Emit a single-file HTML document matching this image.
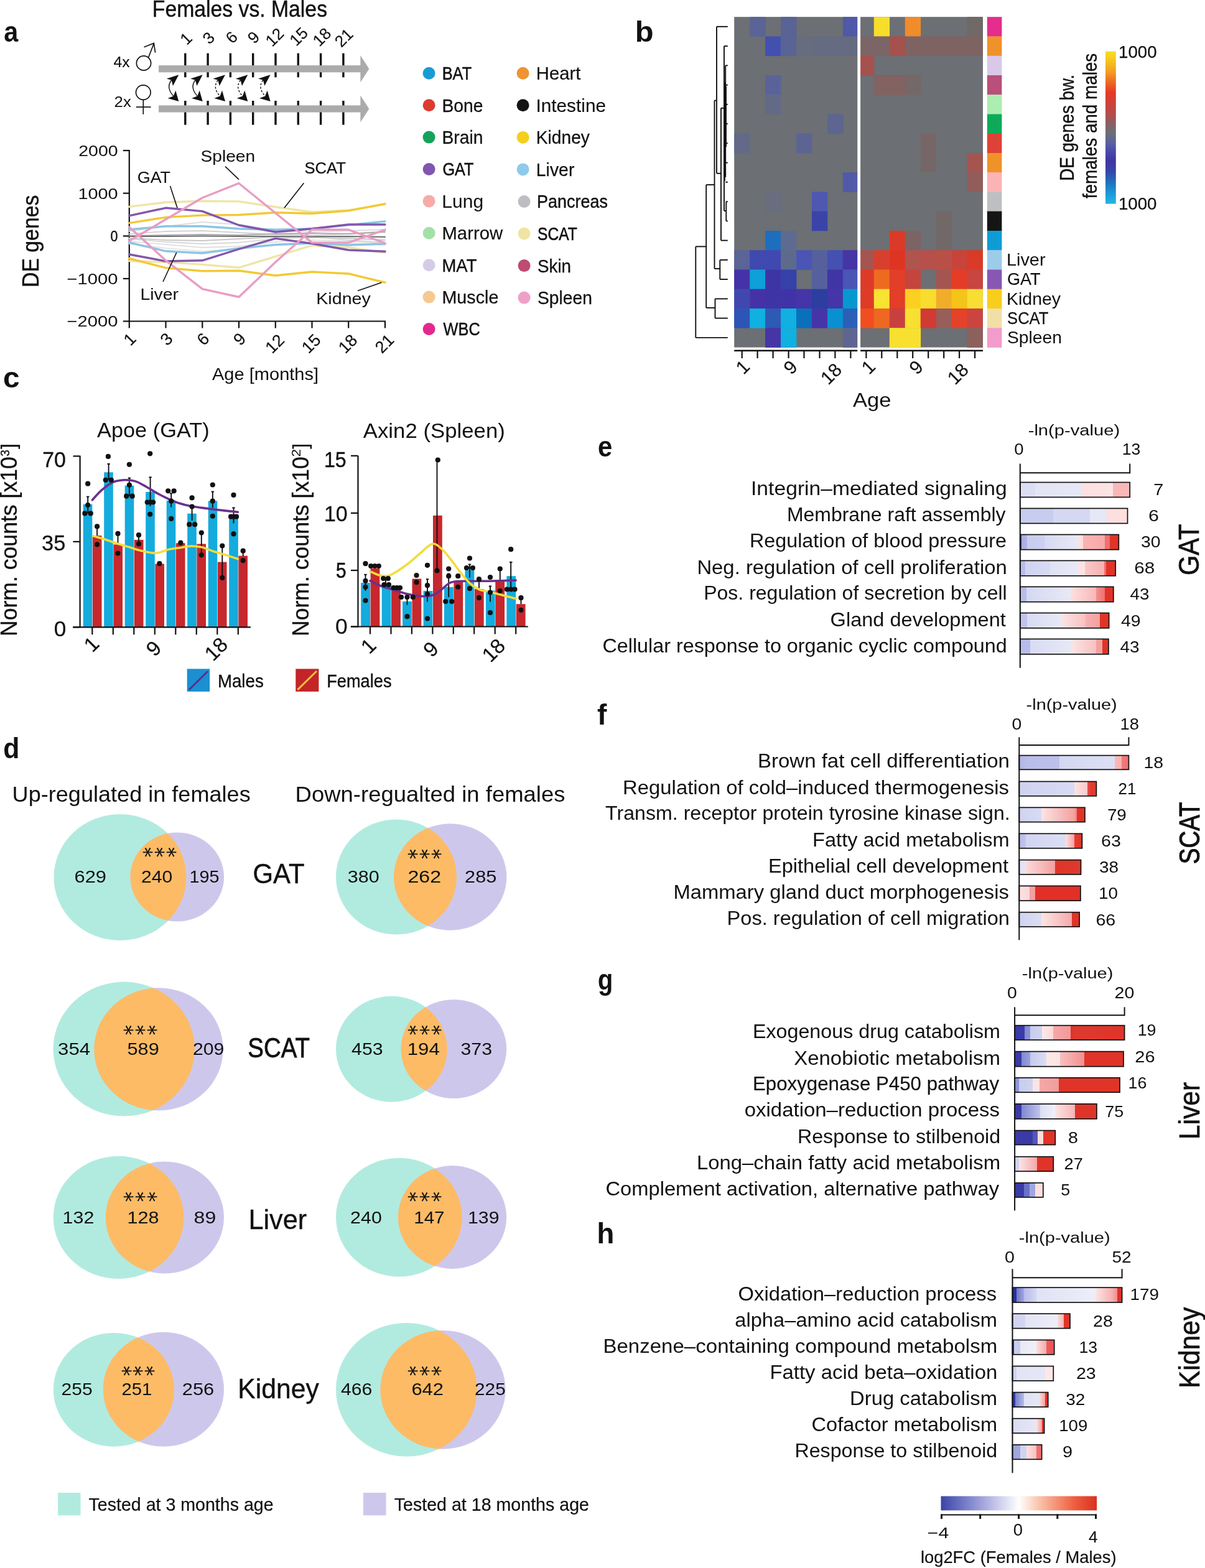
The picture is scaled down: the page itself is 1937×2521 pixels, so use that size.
<!DOCTYPE html>
<html><head><meta charset="utf-8"><title>Figure</title>
<style>html,body{margin:0;padding:0;background:#fff;}svg{display:block;}
svg{font-family:"Liberation Sans",Arial,sans-serif;}text{fill:#111;}</style></head>
<body><svg width="1937" height="2521" viewBox="0 0 1937 2521">
<rect width="1937" height="2521" fill="#fff"/>
<text x="6.2" y="66.9" font-size="47" font-weight="bold" textLength="23" lengthAdjust="spacingAndGlyphs">a</text>
<text x="244.8" y="27.1" font-size="36" textLength="281.2" lengthAdjust="spacingAndGlyphs" stroke="#111" stroke-width="0.42">Females vs. Males</text>
<text x="182.6" y="107.7" font-size="24.5" textLength="26.1" lengthAdjust="spacingAndGlyphs" stroke="#111" stroke-width="0.13">4x</text>
<text x="183.6" y="172.4" font-size="24.5" textLength="27.2" lengthAdjust="spacingAndGlyphs">2x</text>
<circle cx="231" cy="101.5" r="11.6" fill="none" stroke="#111" stroke-width="1.7"/>
<line x1="238.7" y1="92.3" x2="247.3" y2="70" stroke="#111" stroke-width="1.7" />
<path d="M231.5,75.8 L247.3,69.5 L249.6,84.6" fill="none" stroke="#111" stroke-width="1.7" />
<circle cx="230.3" cy="148.6" r="11.8" fill="none" stroke="#111" stroke-width="1.7"/>
<line x1="230.3" y1="160.4" x2="230.3" y2="183.8" stroke="#111" stroke-width="1.7" />
<line x1="218.8" y1="172.1" x2="242.6" y2="172.1" stroke="#111" stroke-width="1.7" />
<line x1="297.8" y1="85.6" x2="297.8" y2="124.3" stroke="#111" stroke-width="3.4" />
<line x1="297.8" y1="162" x2="297.8" y2="200.7" stroke="#111" stroke-width="3.4" />
<line x1="334.1" y1="85.6" x2="334.1" y2="124.3" stroke="#111" stroke-width="3.4" />
<line x1="334.1" y1="162" x2="334.1" y2="200.7" stroke="#111" stroke-width="3.4" />
<line x1="370.4" y1="85.6" x2="370.4" y2="124.3" stroke="#111" stroke-width="3.4" />
<line x1="370.4" y1="162" x2="370.4" y2="200.7" stroke="#111" stroke-width="3.4" />
<line x1="406.7" y1="85.6" x2="406.7" y2="124.3" stroke="#111" stroke-width="3.4" />
<line x1="406.7" y1="162" x2="406.7" y2="200.7" stroke="#111" stroke-width="3.4" />
<line x1="443" y1="85.6" x2="443" y2="124.3" stroke="#111" stroke-width="3.4" />
<line x1="443" y1="162" x2="443" y2="200.7" stroke="#111" stroke-width="3.4" />
<line x1="479.3" y1="85.6" x2="479.3" y2="124.3" stroke="#111" stroke-width="3.4" />
<line x1="479.3" y1="162" x2="479.3" y2="200.7" stroke="#111" stroke-width="3.4" />
<line x1="515.6" y1="85.6" x2="515.6" y2="124.3" stroke="#111" stroke-width="3.4" />
<line x1="515.6" y1="162" x2="515.6" y2="200.7" stroke="#111" stroke-width="3.4" />
<line x1="551.9" y1="85.6" x2="551.9" y2="124.3" stroke="#111" stroke-width="3.4" />
<line x1="551.9" y1="162" x2="551.9" y2="200.7" stroke="#111" stroke-width="3.4" />
<rect x="255.1" y="105.1" width="326" height="11.2" fill="#ABABAB" />
<path d="M579.4,89.1 L593.3,110.7 L579.4,132.3 Z" fill="#ABABAB" />
<rect x="255.1" y="169.4" width="326" height="11.2" fill="#ABABAB" />
<path d="M579.4,153.4 L593.3,175 L579.4,196.6 Z" fill="#ABABAB" />
<text x="300.2" y="73.6" font-size="26" transform="rotate(-45 300.2 73.6)" stroke="#111" stroke-width="0.16">1</text>
<text x="336.5" y="72.4" font-size="26" transform="rotate(-45 336.5 72.4)" stroke="#111" stroke-width="0.16">3</text>
<text x="373.5" y="71.5" font-size="26" transform="rotate(-45 373.5 71.5)" stroke="#111" stroke-width="0.16">6</text>
<text x="408.7" y="71.4" font-size="26" transform="rotate(-45 408.7 71.4)" stroke="#111" stroke-width="0.16">9</text>
<text x="437.6" y="76.3" font-size="26" transform="rotate(-45 437.6 76.3)" stroke="#111" stroke-width="0.16">12</text>
<text x="476.3" y="75.2" font-size="26" transform="rotate(-45 476.3 75.2)" stroke="#111" stroke-width="0.16">15</text>
<text x="513.6" y="75.9" font-size="26" transform="rotate(-45 513.6 75.9)" stroke="#111" stroke-width="0.16">18</text>
<text x="548.7" y="77.3" font-size="26" transform="rotate(-45 548.7 77.3)" stroke="#111" stroke-width="0.16">21</text>
<path d="M275.6,128.8 Q266.3,140.8 278.9,154.5" fill="none" stroke="#111" stroke-width="1.4" />
<path d="M287.3,120.2 L267.8,126.4 L275.6,128.8 L278,138.1 Z" fill="#111"/>
<path d="M287.3,163.1 L269.7,158.1 L278.9,154.5 L282.3,145.5 Z" fill="#111"/>
<path d="M314,128.8 Q304.7,140.8 317.3,154.5" fill="none" stroke="#111" stroke-width="1.4" />
<path d="M325.7,120.2 L306.2,126.4 L314,128.8 L316.4,138.1 Z" fill="#111"/>
<path d="M325.7,163.1 L308.1,158.1 L317.3,154.5 L320.7,145.5 Z" fill="#111"/>
<path d="M350.3,128.8 Q341,140.8 353.6,154.5" fill="none" stroke="#111" stroke-width="1.4" stroke-dasharray="3.2,2.6"/>
<path d="M362,120.2 L342.5,126.4 L350.3,128.8 L352.7,138.1 Z" fill="#111"/>
<path d="M362,163.1 L344.4,158.1 L353.6,154.5 L357,145.5 Z" fill="#111"/>
<path d="M386.6,128.8 Q377.3,140.8 389.9,154.5" fill="none" stroke="#111" stroke-width="1.4" stroke-dasharray="3.2,2.6"/>
<path d="M398.3,120.2 L378.8,126.4 L386.6,128.8 L389,138.1 Z" fill="#111"/>
<path d="M398.3,163.1 L380.7,158.1 L389.9,154.5 L393.3,145.5 Z" fill="#111"/>
<path d="M422.9,128.8 Q413.6,140.8 426.2,154.5" fill="none" stroke="#111" stroke-width="1.4" stroke-dasharray="3.2,2.6"/>
<path d="M434.6,120.2 L415.1,126.4 L422.9,128.8 L425.3,138.1 Z" fill="#111"/>
<path d="M434.6,163.1 L417,158.1 L426.2,154.5 L429.6,145.5 Z" fill="#111"/>
<line x1="207.8" y1="241" x2="207.8" y2="517.5" stroke="#111" stroke-width="2.2" />
<line x1="206.7" y1="516.5" x2="620" y2="516.5" stroke="#111" stroke-width="2.2" />
<line x1="197.8" y1="242" x2="207.8" y2="242" stroke="#111" stroke-width="2.2" />
<text x="126.2" y="250.8" font-size="24.8" textLength="63.4" lengthAdjust="spacingAndGlyphs">2000</text>
<line x1="197.8" y1="310.7" x2="207.8" y2="310.7" stroke="#111" stroke-width="2.2" />
<text x="125.4" y="319.5" font-size="24.8" textLength="64.2" lengthAdjust="spacingAndGlyphs">1000</text>
<line x1="197.8" y1="379.5" x2="207.8" y2="379.5" stroke="#111" stroke-width="2.2" />
<text x="177.4" y="388.3" font-size="24.8" textLength="11.9" lengthAdjust="spacingAndGlyphs" stroke="#111" stroke-width="0.45">0</text>
<line x1="197.8" y1="448" x2="207.8" y2="448" stroke="#111" stroke-width="2.2" />
<text x="107.5" y="456.8" font-size="24.8" textLength="82" lengthAdjust="spacingAndGlyphs">−1000</text>
<line x1="197.8" y1="516.5" x2="207.8" y2="516.5" stroke="#111" stroke-width="2.2" />
<text x="107.5" y="525.3" font-size="24.8" textLength="82" lengthAdjust="spacingAndGlyphs">−2000</text>
<line x1="207.8" y1="516.5" x2="207.8" y2="527.5" stroke="#111" stroke-width="2.2" />
<text x="209.8" y="557.2" font-size="27" transform="rotate(-45 209.8 557.2)" stroke="#111" stroke-width="0.16">1</text>
<line x1="266.5" y1="516.5" x2="266.5" y2="527.5" stroke="#111" stroke-width="2.2" />
<text x="268.8" y="556.9" font-size="27" transform="rotate(-45 268.8 556.9)" stroke="#111" stroke-width="0.16">3</text>
<line x1="325.3" y1="516.5" x2="325.3" y2="527.5" stroke="#111" stroke-width="2.2" />
<text x="327.5" y="557" font-size="27" transform="rotate(-45 327.5 557)" stroke="#111" stroke-width="0.16">6</text>
<line x1="384" y1="516.5" x2="384" y2="527.5" stroke="#111" stroke-width="2.2" />
<text x="386.3" y="556.9" font-size="27" transform="rotate(-45 386.3 556.9)" stroke="#111" stroke-width="0.16">9</text>
<line x1="442.8" y1="516.5" x2="442.8" y2="527.5" stroke="#111" stroke-width="2.2" />
<text x="437.6" y="569.8" font-size="27" transform="rotate(-45 437.6 569.8)" stroke="#111" stroke-width="0.16">12</text>
<line x1="501.5" y1="516.5" x2="501.5" y2="527.5" stroke="#111" stroke-width="2.2" />
<text x="496.1" y="569.7" font-size="27" transform="rotate(-45 496.1 569.7)" stroke="#111" stroke-width="0.16">15</text>
<line x1="560.2" y1="516.5" x2="560.2" y2="527.5" stroke="#111" stroke-width="2.2" />
<text x="554.9" y="569.8" font-size="27" transform="rotate(-45 554.9 569.8)" stroke="#111" stroke-width="0.16">18</text>
<line x1="619" y1="516.5" x2="619" y2="527.5" stroke="#111" stroke-width="2.2" />
<text x="614" y="569.6" font-size="27" transform="rotate(-45 614 569.6)" stroke="#111" stroke-width="0.16">21</text>
<text x="62.3" y="462" font-size="36.5" textLength="148.4" lengthAdjust="spacingAndGlyphs" transform="rotate(-90 62.3 462)" stroke="#111" stroke-width="0.46">DE genes</text>
<text x="341" y="610.5" font-size="27.6" textLength="171.1" lengthAdjust="spacingAndGlyphs">Age [months]</text>
<polyline points="207.8,372 266.5,364 325.3,357 384,361 442.8,370 501.5,373 560.2,371 619,369" fill="none" stroke="#DEDEDE" stroke-width="1.8" stroke-linejoin="round" stroke-linecap="round" />
<polyline points="207.8,376 266.5,372 325.3,371 384,374 442.8,377 501.5,378 560.2,376 619,372" fill="none" stroke="#D2D2D2" stroke-width="1.8" stroke-linejoin="round" stroke-linecap="round" />
<polyline points="207.8,383 266.5,386 325.3,387 384,384 442.8,381 501.5,382 560.2,383 619,386" fill="none" stroke="#C8C8C8" stroke-width="1.8" stroke-linejoin="round" stroke-linecap="round" />
<polyline points="207.8,388 266.5,393 325.3,398 384,396 442.8,389 501.5,386 560.2,388 619,391" fill="none" stroke="#E0E0E0" stroke-width="1.8" stroke-linejoin="round" stroke-linecap="round" />
<polyline points="207.8,392 266.5,399 325.3,404 384,401 442.8,393 501.5,389 560.2,391 619,394" fill="none" stroke="#E6E6E6" stroke-width="1.8" stroke-linejoin="round" stroke-linecap="round" />
<polyline points="207.8,379 266.5,378 325.3,377 384,378 442.8,376 501.5,375 560.2,376 619,373" fill="none" stroke="#AAAAAA" stroke-width="1.8" stroke-linejoin="round" stroke-linecap="round" />
<polyline points="207.8,384 266.5,389 325.3,392 384,390 442.8,384 501.5,381 560.2,386 619,390" fill="none" stroke="#D8D8D8" stroke-width="1.8" stroke-linejoin="round" stroke-linecap="round" />
<polyline points="207.8,380 266.5,380 325.3,379.5 384,380 442.8,380 501.5,380.5 560.2,380 619,381" fill="none" stroke="#6E6E6E" stroke-width="2.2" stroke-linejoin="round" stroke-linecap="round" />
<polyline points="207.8,332.4 266.5,325.2 325.3,323.2 384,323.9 442.8,332.8 501.5,341 560.2,338 619,328.6" fill="none" stroke="#EFE5A8" stroke-width="3.4" stroke-linejoin="round" stroke-linecap="round" />
<polyline points="207.8,419.5 266.5,421.4 325.3,425.4 384,430.3 442.8,412.4 501.5,394.6 560.2,397.6 619,406.5" fill="none" stroke="#EFE5A8" stroke-width="3.4" stroke-linejoin="round" stroke-linecap="round" />
<polyline points="207.8,369 266.5,363.8 325.3,363.8 384,367.7 442.8,369.3 501.5,367.8 560.2,361.8 619,355.9" fill="none" stroke="#8DC5E4" stroke-width="3.4" stroke-linejoin="round" stroke-linecap="round" />
<polyline points="207.8,390 266.5,403.8 325.3,407 384,399.2 442.8,393.5 501.5,391 560.2,394 619,392" fill="none" stroke="#8DC5E4" stroke-width="3.4" stroke-linejoin="round" stroke-linecap="round" />
<polyline points="207.8,358.6 266.5,349.4 325.3,346.1 384,345.5 442.8,341.8 501.5,343.2 560.2,338.8 619,327.6" fill="none" stroke="#F2C935" stroke-width="3.4" stroke-linejoin="round" stroke-linecap="round" />
<polyline points="207.8,415.5 266.5,430.6 325.3,435.8 384,435.2 442.8,443 501.5,437 560.2,440 619,454.1" fill="none" stroke="#F2C935" stroke-width="3.4" stroke-linejoin="round" stroke-linecap="round" />
<polyline points="207.8,346.8 266.5,334.3 325.3,339.6 384,362 442.8,373 501.5,367.8 560.2,361 619,361" fill="none" stroke="#8157AE" stroke-width="3.4" stroke-linejoin="round" stroke-linecap="round" />
<polyline points="207.8,409 266.5,420 325.3,418.8 384,400.5 442.8,383.4 501.5,391.6 560.2,402 619,404.3" fill="none" stroke="#8157AE" stroke-width="3.4" stroke-linejoin="round" stroke-linecap="round" />
<polyline points="207.8,387.4 266.5,352.7 325.3,318 384,294.7 442.8,342.5 501.5,390.1 560.2,390.1 619,369.3" fill="none" stroke="#E99CC5" stroke-width="3.4" stroke-linejoin="round" stroke-linecap="round" />
<polyline points="207.8,365 266.5,418.8 325.3,464.6 384,477.5 442.8,421.5 501.5,369.3 560.2,369.3 619,390.9" fill="none" stroke="#E99CC5" stroke-width="3.4" stroke-linejoin="round" stroke-linecap="round" />
<text x="220.7" y="293.5" font-size="26.5" textLength="53.4" lengthAdjust="spacingAndGlyphs">GAT</text>
<line x1="273.5" y1="299" x2="285" y2="334.3" stroke="#111" stroke-width="1.6" />
<text x="322.5" y="260" font-size="26.5" textLength="87.7" lengthAdjust="spacingAndGlyphs">Spleen</text>
<line x1="362" y1="267.6" x2="384" y2="288.6" stroke="#111" stroke-width="1.6" />
<text x="489.5" y="279" font-size="26.5" textLength="66.4" lengthAdjust="spacingAndGlyphs" stroke="#111" stroke-width="0.24">SCAT</text>
<line x1="488.4" y1="294.3" x2="457" y2="334.3" stroke="#111" stroke-width="1.6" />
<text x="225.5" y="482" font-size="26.5" textLength="61.5" lengthAdjust="spacingAndGlyphs">Liver</text>
<line x1="283.8" y1="406" x2="262" y2="453" stroke="#111" stroke-width="1.6" />
<text x="508.2" y="488.6" font-size="26.5" textLength="87.7" lengthAdjust="spacingAndGlyphs">Kidney</text>
<line x1="575" y1="467.6" x2="613.3" y2="454.3" stroke="#111" stroke-width="1.6" />
<circle cx="689.6" cy="117.8" r="10" fill="#1B9BD4" />
<text x="710.7" y="128.2" font-size="29.3" textLength="47.5" lengthAdjust="spacingAndGlyphs" stroke="#111" stroke-width="0.53">BAT</text>
<circle cx="689.6" cy="169.2" r="10" fill="#DB3C30" />
<text x="710.4" y="179.6" font-size="29.3" textLength="66.1" lengthAdjust="spacingAndGlyphs" stroke="#111" stroke-width="0.27">Bone</text>
<circle cx="689.6" cy="220.6" r="10" fill="#14A358" />
<text x="710.4" y="231" font-size="29.3" textLength="66" lengthAdjust="spacingAndGlyphs" stroke="#111" stroke-width="0.27">Brain</text>
<circle cx="689.6" cy="272" r="10" fill="#8056B0" />
<text x="711.4" y="282.4" font-size="29.3" textLength="50.1" lengthAdjust="spacingAndGlyphs" stroke="#111" stroke-width="0.54">GAT</text>
<circle cx="689.6" cy="323.4" r="10" fill="#F6ABA9" />
<text x="710.3" y="333.8" font-size="29.3" textLength="66.9" lengthAdjust="spacingAndGlyphs">Lung</text>
<circle cx="689.6" cy="374.8" r="10" fill="#A3E0A6" />
<text x="710.4" y="385.2" font-size="29.3" textLength="97.8" lengthAdjust="spacingAndGlyphs" stroke="#111" stroke-width="0.17">Marrow</text>
<circle cx="689.6" cy="426.2" r="10" fill="#D6CBE7" />
<text x="710.5" y="436.6" font-size="29.3" textLength="55.9" lengthAdjust="spacingAndGlyphs" stroke="#111" stroke-width="0.34">MAT</text>
<circle cx="689.6" cy="477.6" r="10" fill="#F7C891" />
<text x="710.4" y="488" font-size="29.3" textLength="91" lengthAdjust="spacingAndGlyphs" stroke="#111" stroke-width="0.23">Muscle</text>
<circle cx="689.6" cy="529" r="10" fill="#E3288E" />
<text x="712.6" y="539.4" font-size="29.3" textLength="59.2" lengthAdjust="spacingAndGlyphs" stroke="#111" stroke-width="0.53">WBC</text>
<circle cx="840.6" cy="117.8" r="10" fill="#EE9432" />
<text x="861.8" y="128.2" font-size="29.3" textLength="71.7" lengthAdjust="spacingAndGlyphs" stroke="#111" stroke-width="0.18">Heart</text>
<circle cx="840.6" cy="169.3" r="10" fill="#141414" />
<text x="861.4" y="179.8" font-size="29.3" textLength="112.7" lengthAdjust="spacingAndGlyphs" stroke="#111" stroke-width="0.13">Intestine</text>
<circle cx="840.6" cy="220.9" r="10" fill="#F5CF1E" />
<text x="861.8" y="231.3" font-size="29.3" textLength="86.1" lengthAdjust="spacingAndGlyphs" stroke="#111" stroke-width="0.28">Kidney</text>
<circle cx="840.6" cy="272.4" r="10" fill="#8FCAEC" />
<text x="861.8" y="282.8" font-size="29.3" textLength="61.6" lengthAdjust="spacingAndGlyphs" stroke="#111" stroke-width="0.25">Liver</text>
<circle cx="842.6" cy="324" r="10" fill="#BDBEC2" />
<text x="863" y="334.4" font-size="29.3" textLength="114" lengthAdjust="spacingAndGlyphs" stroke="#111" stroke-width="0.39">Pancreas</text>
<circle cx="842.6" cy="375.6" r="10" fill="#F0E4A4" />
<text x="864.1" y="385.9" font-size="29.3" textLength="63.8" lengthAdjust="spacingAndGlyphs" stroke="#111" stroke-width="0.60">SCAT</text>
<circle cx="842.6" cy="427.1" r="10" fill="#BE4B72" />
<text x="863.9" y="437.5" font-size="29.3" textLength="54.2" lengthAdjust="spacingAndGlyphs" stroke="#111" stroke-width="0.30">Skin</text>
<circle cx="842.6" cy="478.6" r="10" fill="#EFA0C8" />
<text x="863.9" y="489" font-size="29.3" textLength="88" lengthAdjust="spacingAndGlyphs" stroke="#111" stroke-width="0.27">Spleen</text>
<text x="1020.8" y="66.7" font-size="47" font-weight="bold" textLength="29.8" lengthAdjust="spacingAndGlyphs">b</text>
<rect x="1180.2" y="27.2" width="399.8" height="531.3" fill="#6C6F73" />
<rect x="1205.2" y="27.2" width="25.3" height="31.6" fill="#5B6496" />
<rect x="1255.1" y="27.2" width="25.3" height="31.6" fill="#5A6395" />
<rect x="1354.9" y="27.2" width="25.3" height="31.6" fill="#5058A8" />
<rect x="1230.1" y="58.5" width="25.3" height="31.6" fill="#4450B0" />
<rect x="1255.1" y="58.5" width="25.3" height="31.6" fill="#5A6395" />
<rect x="1280" y="58.5" width="25.3" height="31.6" fill="#676C7E" />
<rect x="1305" y="58.5" width="25.3" height="31.6" fill="#656B80" />
<rect x="1330" y="58.5" width="25.3" height="31.6" fill="#656B80" />
<rect x="1354.9" y="58.5" width="25.3" height="31.6" fill="#656B80" />
<rect x="1230.1" y="121" width="25.3" height="31.6" fill="#5A6399" />
<rect x="1230.1" y="152.2" width="25.3" height="31.6" fill="#636A88" />
<rect x="1330" y="183.5" width="25.3" height="31.6" fill="#5D6590" />
<rect x="1180.2" y="214.7" width="25.3" height="31.6" fill="#636A88" />
<rect x="1280" y="214.7" width="25.3" height="31.6" fill="#5C6494" />
<rect x="1354.9" y="277.2" width="25.3" height="31.6" fill="#5259A8" />
<rect x="1230.1" y="308.5" width="25.3" height="31.6" fill="#686D80" />
<rect x="1305" y="308.5" width="25.3" height="31.6" fill="#4E58B0" />
<rect x="1305" y="339.7" width="25.3" height="31.6" fill="#3A44A8" />
<rect x="1230.1" y="371" width="25.3" height="31.6" fill="#1E6EBE" />
<rect x="1255.1" y="371" width="25.3" height="31.6" fill="#5E6A90" />
<rect x="1180.2" y="402.2" width="25.3" height="31.6" fill="#5A6496" />
<rect x="1205.2" y="402.2" width="25.3" height="31.6" fill="#4049B0" />
<rect x="1230.1" y="402.2" width="25.3" height="31.6" fill="#4049B0" />
<rect x="1255.1" y="402.2" width="25.3" height="31.6" fill="#5E6A8C" />
<rect x="1280" y="402.2" width="25.3" height="31.6" fill="#4A55B5" />
<rect x="1305" y="402.2" width="25.3" height="31.6" fill="#56609C" />
<rect x="1330" y="402.2" width="25.3" height="31.6" fill="#4450B2" />
<rect x="1354.9" y="402.2" width="25.3" height="31.6" fill="#4535A5" />
<rect x="1180.2" y="433.5" width="25.3" height="31.6" fill="#4532A8" />
<rect x="1205.2" y="433.5" width="25.3" height="31.6" fill="#0FA0D8" />
<rect x="1230.1" y="433.5" width="25.3" height="31.6" fill="#3E35A5" />
<rect x="1255.1" y="433.5" width="25.3" height="31.6" fill="#3442AA" />
<rect x="1305" y="433.5" width="25.3" height="31.6" fill="#56609C" />
<rect x="1330" y="433.5" width="25.3" height="31.6" fill="#4035A5" />
<rect x="1354.9" y="433.5" width="25.3" height="31.6" fill="#4A55B5" />
<rect x="1180.2" y="464.7" width="25.3" height="31.6" fill="#4048B0" />
<rect x="1205.2" y="464.7" width="25.3" height="31.6" fill="#4532A8" />
<rect x="1230.1" y="464.7" width="25.3" height="31.6" fill="#3E34A5" />
<rect x="1255.1" y="464.7" width="25.3" height="31.6" fill="#4232A8" />
<rect x="1280" y="464.7" width="25.3" height="31.6" fill="#4535A8" />
<rect x="1305" y="464.7" width="25.3" height="31.6" fill="#2C3EA0" />
<rect x="1330" y="464.7" width="25.3" height="31.6" fill="#4535A8" />
<rect x="1354.9" y="464.7" width="25.3" height="31.6" fill="#0898D0" />
<rect x="1180.2" y="496" width="25.3" height="31.6" fill="#2D55B8" />
<rect x="1205.2" y="496" width="25.3" height="31.6" fill="#10B0E0" />
<rect x="1230.1" y="496" width="25.3" height="31.6" fill="#2D5AB5" />
<rect x="1255.1" y="496" width="25.3" height="31.6" fill="#10B0E0" />
<rect x="1280" y="496" width="25.3" height="31.6" fill="#0A70BC" />
<rect x="1305" y="496" width="25.3" height="31.6" fill="#4535A8" />
<rect x="1330" y="496" width="25.3" height="31.6" fill="#0890D0" />
<rect x="1354.9" y="496" width="25.3" height="31.6" fill="#2A60B8" />
<rect x="1230.1" y="527.2" width="25.3" height="31.6" fill="#4535A5" />
<rect x="1255.1" y="527.2" width="25.3" height="31.6" fill="#10B0E0" />
<rect x="1354.9" y="527.2" width="25.3" height="31.6" fill="#5E6590" />
<rect x="1404.8" y="27.2" width="25.3" height="31.6" fill="#F7DE2A" />
<rect x="1454.8" y="27.2" width="25.3" height="31.6" fill="#F08C2A" />
<rect x="1554.6" y="27.2" width="25.3" height="31.6" fill="#716868" />
<rect x="1379.9" y="58.5" width="25.3" height="31.6" fill="#7C6566" />
<rect x="1404.8" y="58.5" width="25.3" height="31.6" fill="#7C6566" />
<rect x="1429.8" y="58.5" width="25.3" height="31.6" fill="#A5514D" />
<rect x="1454.8" y="58.5" width="25.3" height="31.6" fill="#7E6363" />
<rect x="1479.7" y="58.5" width="25.3" height="31.6" fill="#7E6363" />
<rect x="1504.7" y="58.5" width="25.3" height="31.6" fill="#7E6363" />
<rect x="1529.6" y="58.5" width="25.3" height="31.6" fill="#7E6363" />
<rect x="1554.6" y="58.5" width="25.3" height="31.6" fill="#7E6363" />
<rect x="1379.9" y="89.7" width="25.3" height="31.6" fill="#A5514D" />
<rect x="1404.8" y="121" width="25.3" height="31.6" fill="#836262" />
<rect x="1429.8" y="121" width="25.3" height="31.6" fill="#836262" />
<rect x="1454.8" y="121" width="25.3" height="31.6" fill="#746868" />
<rect x="1479.7" y="214.7" width="25.3" height="31.6" fill="#776666" />
<rect x="1479.7" y="246" width="25.3" height="31.6" fill="#756767" />
<rect x="1554.6" y="246" width="25.3" height="31.6" fill="#A5554F" />
<rect x="1554.6" y="277.2" width="25.3" height="31.6" fill="#905D5A" />
<rect x="1504.7" y="339.7" width="25.3" height="31.6" fill="#736868" />
<rect x="1429.8" y="371" width="25.3" height="31.6" fill="#DC3A28" />
<rect x="1454.8" y="371" width="25.3" height="31.6" fill="#7D6464" />
<rect x="1504.7" y="371" width="25.3" height="31.6" fill="#716868" />
<rect x="1379.9" y="402.2" width="25.3" height="31.6" fill="#A5554F" />
<rect x="1404.8" y="402.2" width="25.3" height="31.6" fill="#D8402E" />
<rect x="1429.8" y="402.2" width="25.3" height="31.6" fill="#E03423" />
<rect x="1454.8" y="402.2" width="25.3" height="31.6" fill="#B05450" />
<rect x="1479.7" y="402.2" width="25.3" height="31.6" fill="#B5504A" />
<rect x="1504.7" y="402.2" width="25.3" height="31.6" fill="#B85048" />
<rect x="1529.6" y="402.2" width="25.3" height="31.6" fill="#C8443A" />
<rect x="1554.6" y="402.2" width="25.3" height="31.6" fill="#DA3A28" />
<rect x="1379.9" y="433.5" width="25.3" height="31.6" fill="#DE3A28" />
<rect x="1404.8" y="433.5" width="25.3" height="31.6" fill="#EE6A20" />
<rect x="1429.8" y="433.5" width="25.3" height="31.6" fill="#E23E28" />
<rect x="1454.8" y="433.5" width="25.3" height="31.6" fill="#C4443E" />
<rect x="1504.7" y="433.5" width="25.3" height="31.6" fill="#A55550" />
<rect x="1529.6" y="433.5" width="25.3" height="31.6" fill="#E43C26" />
<rect x="1554.6" y="433.5" width="25.3" height="31.6" fill="#C94540" />
<rect x="1379.9" y="464.7" width="25.3" height="31.6" fill="#DE3C28" />
<rect x="1404.8" y="464.7" width="25.3" height="31.6" fill="#F8E232" />
<rect x="1429.8" y="464.7" width="25.3" height="31.6" fill="#E23E28" />
<rect x="1454.8" y="464.7" width="25.3" height="31.6" fill="#FBD020" />
<rect x="1479.7" y="464.7" width="25.3" height="31.6" fill="#F8DC2E" />
<rect x="1504.7" y="464.7" width="25.3" height="31.6" fill="#F0AE28" />
<rect x="1529.6" y="464.7" width="25.3" height="31.6" fill="#F5C418" />
<rect x="1554.6" y="464.7" width="25.3" height="31.6" fill="#F8DE32" />
<rect x="1379.9" y="496" width="25.3" height="31.6" fill="#F04E20" />
<rect x="1404.8" y="496" width="25.3" height="31.6" fill="#EE6822" />
<rect x="1429.8" y="496" width="25.3" height="31.6" fill="#C8403E" />
<rect x="1454.8" y="496" width="25.3" height="31.6" fill="#F8E030" />
<rect x="1479.7" y="496" width="25.3" height="31.6" fill="#D33A34" />
<rect x="1504.7" y="496" width="25.3" height="31.6" fill="#985E5A" />
<rect x="1529.6" y="496" width="25.3" height="31.6" fill="#E4422A" />
<rect x="1554.6" y="496" width="25.3" height="31.6" fill="#CB4440" />
<rect x="1429.8" y="527.2" width="25.3" height="31.6" fill="#F8E030" />
<rect x="1454.8" y="527.2" width="25.3" height="31.6" fill="#F8E030" />
<rect x="1554.6" y="527.2" width="25.3" height="31.6" fill="#8C605C" />
<rect x="1378.3" y="26.2" width="4.8" height="533.3" fill="#fff" />
<rect x="1580" y="26.2" width="5" height="533.3" fill="#fff" />
<rect x="1586.8" y="27.2" width="23.6" height="31.6" fill="#E42D8C" />
<rect x="1586.8" y="58.5" width="23.6" height="31.6" fill="#F0922A" />
<rect x="1586.8" y="89.7" width="23.6" height="31.6" fill="#D9C9E8" />
<rect x="1586.8" y="121" width="23.6" height="31.6" fill="#B8507A" />
<rect x="1586.8" y="152.2" width="23.6" height="31.6" fill="#ACEDB0" />
<rect x="1586.8" y="183.5" width="23.6" height="31.6" fill="#0DAB59" />
<rect x="1586.8" y="214.7" width="23.6" height="31.6" fill="#DE4236" />
<rect x="1586.8" y="246" width="23.6" height="31.6" fill="#F0922A" />
<rect x="1586.8" y="277.2" width="23.6" height="31.6" fill="#FBB3B5" />
<rect x="1586.8" y="308.5" width="23.6" height="31.6" fill="#BEBFC3" />
<rect x="1586.8" y="339.7" width="23.6" height="31.6" fill="#151515" />
<rect x="1586.8" y="371" width="23.6" height="31.6" fill="#0E9CD5" />
<rect x="1586.8" y="402.2" width="23.6" height="31.6" fill="#9DCBEA" />
<rect x="1586.8" y="433.5" width="23.6" height="31.6" fill="#8757B3" />
<rect x="1586.8" y="464.7" width="23.6" height="31.6" fill="#F8CE1C" />
<rect x="1586.8" y="496" width="23.6" height="31.6" fill="#F1DFA7" />
<rect x="1586.8" y="527.2" width="23.6" height="31.6" fill="#F29CCB" />
<text x="1618" y="427.2" font-size="26.8" textLength="62.5" lengthAdjust="spacingAndGlyphs">Liver</text>
<text x="1618.9" y="458.4" font-size="26.8" textLength="53.6" lengthAdjust="spacingAndGlyphs" stroke="#111" stroke-width="0.14">GAT</text>
<text x="1618" y="489.7" font-size="26.8" textLength="87.1" lengthAdjust="spacingAndGlyphs">Kidney</text>
<text x="1619.1" y="520.9" font-size="26.8" textLength="66.3" lengthAdjust="spacingAndGlyphs" stroke="#111" stroke-width="0.27">SCAT</text>
<text x="1619" y="552.2" font-size="26.8" textLength="88" lengthAdjust="spacingAndGlyphs">Spleen</text>
<line x1="1180.2" y1="563.8" x2="1378.3" y2="563.8" stroke="#111" stroke-width="2.6" />
<line x1="1383.1" y1="563.8" x2="1580" y2="563.8" stroke="#111" stroke-width="2.6" />
<line x1="1192.7" y1="563.8" x2="1192.7" y2="576" stroke="#111" stroke-width="2.2" />
<line x1="1217.6" y1="563.8" x2="1217.6" y2="576" stroke="#111" stroke-width="2.2" />
<line x1="1242.6" y1="563.8" x2="1242.6" y2="576" stroke="#111" stroke-width="2.2" />
<line x1="1267.6" y1="563.8" x2="1267.6" y2="576" stroke="#111" stroke-width="2.2" />
<line x1="1292.5" y1="563.8" x2="1292.5" y2="576" stroke="#111" stroke-width="2.2" />
<line x1="1317.5" y1="563.8" x2="1317.5" y2="576" stroke="#111" stroke-width="2.2" />
<line x1="1342.4" y1="563.8" x2="1342.4" y2="576" stroke="#111" stroke-width="2.2" />
<line x1="1367.4" y1="563.8" x2="1367.4" y2="576" stroke="#111" stroke-width="2.2" />
<line x1="1392.4" y1="563.8" x2="1392.4" y2="576" stroke="#111" stroke-width="2.2" />
<line x1="1417.3" y1="563.8" x2="1417.3" y2="576" stroke="#111" stroke-width="2.2" />
<line x1="1442.3" y1="563.8" x2="1442.3" y2="576" stroke="#111" stroke-width="2.2" />
<line x1="1467.2" y1="563.8" x2="1467.2" y2="576" stroke="#111" stroke-width="2.2" />
<line x1="1492.2" y1="563.8" x2="1492.2" y2="576" stroke="#111" stroke-width="2.2" />
<line x1="1517.2" y1="563.8" x2="1517.2" y2="576" stroke="#111" stroke-width="2.2" />
<line x1="1542.1" y1="563.8" x2="1542.1" y2="576" stroke="#111" stroke-width="2.2" />
<line x1="1567.1" y1="563.8" x2="1567.1" y2="576" stroke="#111" stroke-width="2.2" />
<text x="1195.2" y="603.2" font-size="30" transform="rotate(-45 1195.2 603.2)" stroke="#111" stroke-width="0.18">1</text>
<text x="1272.1" y="603.8" font-size="30" transform="rotate(-45 1272.1 603.8)" stroke="#111" stroke-width="0.18">9</text>
<text x="1331.4" y="620.1" font-size="30" transform="rotate(-45 1331.4 620.1)" stroke="#111" stroke-width="0.18">18</text>
<text x="1397.2" y="603.2" font-size="30" transform="rotate(-45 1397.2 603.2)" stroke="#111" stroke-width="0.18">1</text>
<text x="1474.1" y="603.8" font-size="30" transform="rotate(-45 1474.1 603.8)" stroke="#111" stroke-width="0.18">9</text>
<text x="1535.2" y="620.1" font-size="30" transform="rotate(-45 1535.2 620.1)" stroke="#111" stroke-width="0.18">18</text>
<text x="1371" y="654.2" font-size="32" textLength="61.5" lengthAdjust="spacingAndGlyphs">Age</text>
<line x1="1118.3" y1="396.4" x2="1118.3" y2="542.9" stroke="#111" stroke-width="1.9" />
<line x1="1118.3" y1="542.9" x2="1169.8" y2="542.9" stroke="#111" stroke-width="1.9" />
<line x1="1118.3" y1="396.4" x2="1135.2" y2="396.4" stroke="#111" stroke-width="1.9" />
<line x1="1135.2" y1="297.1" x2="1135.2" y2="494.9" stroke="#111" stroke-width="1.9" />
<line x1="1135.2" y1="494.9" x2="1149.5" y2="494.9" stroke="#111" stroke-width="1.9" />
<line x1="1149.5" y1="480.4" x2="1149.5" y2="511.6" stroke="#111" stroke-width="1.9" />
<line x1="1149.5" y1="480.4" x2="1169.8" y2="480.4" stroke="#111" stroke-width="1.9" />
<line x1="1149.5" y1="511.6" x2="1169.8" y2="511.6" stroke="#111" stroke-width="1.9" />
<line x1="1135.2" y1="297.1" x2="1148.5" y2="297.1" stroke="#111" stroke-width="1.9" />
<line x1="1148.5" y1="161.5" x2="1148.5" y2="432" stroke="#111" stroke-width="1.9" />
<line x1="1148.5" y1="432" x2="1157.3" y2="432" stroke="#111" stroke-width="1.9" />
<line x1="1157.3" y1="417.9" x2="1157.3" y2="449.1" stroke="#111" stroke-width="1.9" />
<line x1="1157.3" y1="417.9" x2="1169.8" y2="417.9" stroke="#111" stroke-width="1.9" />
<line x1="1157.3" y1="449.1" x2="1169.8" y2="449.1" stroke="#111" stroke-width="1.9" />
<line x1="1148.5" y1="161.5" x2="1152" y2="161.5" stroke="#111" stroke-width="1.9" />
<line x1="1152" y1="42.8" x2="1152" y2="278.8" stroke="#111" stroke-width="1.9" />
<line x1="1152" y1="42.8" x2="1169.8" y2="42.8" stroke="#111" stroke-width="1.9" />
<line x1="1152" y1="278.8" x2="1159" y2="278.8" stroke="#111" stroke-width="1.9" />
<line x1="1159" y1="173.8" x2="1159" y2="386.6" stroke="#111" stroke-width="1.9" />
<line x1="1159" y1="386.6" x2="1169.8" y2="386.6" stroke="#111" stroke-width="1.9" />
<line x1="1159" y1="173.8" x2="1164" y2="173.8" stroke="#111" stroke-width="1.9" />
<line x1="1164" y1="74.1" x2="1164" y2="339.1" stroke="#111" stroke-width="1.9" />
<line x1="1164" y1="74.1" x2="1169.8" y2="74.1" stroke="#111" stroke-width="1.9" />
<line x1="1164" y1="339.1" x2="1167.3" y2="339.1" stroke="#111" stroke-width="1.9" />
<line x1="1167.3" y1="324.1" x2="1167.3" y2="355.4" stroke="#111" stroke-width="1.9" />
<line x1="1167.3" y1="324.1" x2="1169.8" y2="324.1" stroke="#111" stroke-width="1.9" />
<line x1="1167.3" y1="355.4" x2="1169.8" y2="355.4" stroke="#111" stroke-width="1.9" />
<line x1="1166.2" y1="105.3" x2="1166.2" y2="284.8" stroke="#111" stroke-width="1.9" />
<line x1="1166.2" y1="105.3" x2="1169.8" y2="105.3" stroke="#111" stroke-width="1.9" />
<line x1="1166.2" y1="136.6" x2="1169.8" y2="136.6" stroke="#111" stroke-width="1.9" />
<line x1="1166.2" y1="167.8" x2="1169.8" y2="167.8" stroke="#111" stroke-width="1.9" />
<line x1="1166.2" y1="199.1" x2="1169.8" y2="199.1" stroke="#111" stroke-width="1.9" />
<line x1="1166.2" y1="230.3" x2="1169.8" y2="230.3" stroke="#111" stroke-width="1.9" />
<line x1="1166.2" y1="261.6" x2="1169.8" y2="261.6" stroke="#111" stroke-width="1.9" />
<line x1="1166.2" y1="292.8" x2="1169.8" y2="292.8" stroke="#111" stroke-width="1.9" />
<line x1="1165.5" y1="132.6" x2="1165.5" y2="265.6" stroke="#111" stroke-width="1.9" />
<line x1="1167" y1="138.6" x2="1167" y2="236.3" stroke="#111" stroke-width="1.9" />
<line x1="1165" y1="167.8" x2="1165" y2="290.8" stroke="#111" stroke-width="1.9" />
<defs><linearGradient id="cbar" x1="0" y1="0" x2="0" y2="1"><stop offset="0" stop-color="#F7E022"/><stop offset="0.07" stop-color="#F6C020"/><stop offset="0.14" stop-color="#F39A22"/><stop offset="0.2" stop-color="#EE6A24"/><stop offset="0.27" stop-color="#E43A28"/><stop offset="0.36" stop-color="#C8443E"/><stop offset="0.43" stop-color="#A85250"/><stop offset="0.48" stop-color="#86606A"/><stop offset="0.53" stop-color="#6E6F74"/><stop offset="0.6" stop-color="#5862A2"/><stop offset="0.66" stop-color="#4848AA"/><stop offset="0.72" stop-color="#3E36A2"/><stop offset="0.79" stop-color="#3546AA"/><stop offset="0.86" stop-color="#1F72BE"/><stop offset="0.93" stop-color="#1C98D6"/><stop offset="1" stop-color="#20B8E8"/></linearGradient></defs>
<rect x="1777" y="82.5" width="16.8" height="245.2" fill="url(#cbar)" />
<text x="1798.1" y="92.6" font-size="28.5" textLength="61.4" lengthAdjust="spacingAndGlyphs" stroke="#111" stroke-width="0.25">1000</text>
<text x="1797.9" y="336.8" font-size="28.5" textLength="61.6" lengthAdjust="spacingAndGlyphs" stroke="#111" stroke-width="0.24">1000</text>
<text x="1726.4" y="290.7" font-size="30.6" textLength="170.8" lengthAdjust="spacingAndGlyphs" transform="rotate(-90 1726.4 290.7)" stroke="#111" stroke-width="0.45">DE genes bw.</text>
<text x="1763.3" y="319.2" font-size="30.6" textLength="233.4" lengthAdjust="spacingAndGlyphs" transform="rotate(-90 1763.3 319.2)" stroke="#111" stroke-width="0.43">females and males</text>
<text x="4.9" y="622.9" font-size="47" font-weight="bold" textLength="26.6" lengthAdjust="spacingAndGlyphs">c</text>
<rect x="133.7" y="810.7" width="14.6" height="197.6" fill="#14ABDD" />
<rect x="148.9" y="861.1" width="14.6" height="147.2" fill="#C6282D" />
<rect x="167.2" y="759.3" width="14.6" height="249" fill="#14ABDD" />
<rect x="182.4" y="875.4" width="14.6" height="132.9" fill="#C6282D" />
<rect x="200.7" y="780.7" width="14.6" height="227.6" fill="#14ABDD" />
<rect x="215.9" y="867.9" width="14.6" height="140.4" fill="#C6282D" />
<rect x="234.2" y="791" width="14.6" height="217.3" fill="#14ABDD" />
<rect x="249.4" y="906.6" width="14.6" height="101.7" fill="#C6282D" />
<rect x="267.7" y="804.8" width="14.6" height="203.5" fill="#14ABDD" />
<rect x="282.9" y="873.2" width="14.6" height="135.1" fill="#C6282D" />
<rect x="301.2" y="825.7" width="14.6" height="182.6" fill="#14ABDD" />
<rect x="316.4" y="874.5" width="14.6" height="133.8" fill="#C6282D" />
<rect x="334.7" y="805.4" width="14.6" height="202.9" fill="#14ABDD" />
<rect x="349.9" y="903.6" width="14.6" height="104.7" fill="#C6282D" />
<rect x="368.2" y="830.7" width="14.6" height="177.6" fill="#14ABDD" />
<rect x="383.4" y="893.6" width="14.6" height="114.7" fill="#C6282D" />
<line x1="141.2" y1="798.6" x2="141.2" y2="825.4" stroke="#111" stroke-width="1.9" />
<line x1="139.1" y1="798.6" x2="143.4" y2="798.6" stroke="#111" stroke-width="1.9" />
<line x1="156.1" y1="846.4" x2="156.1" y2="861.1" stroke="#111" stroke-width="1.9" />
<line x1="153.9" y1="846.4" x2="158.3" y2="846.4" stroke="#111" stroke-width="1.9" />
<line x1="174.6" y1="745.9" x2="174.6" y2="771.8" stroke="#111" stroke-width="1.9" />
<line x1="172.4" y1="745.9" x2="176.8" y2="745.9" stroke="#111" stroke-width="1.9" />
<line x1="189.5" y1="857.9" x2="189.5" y2="875.4" stroke="#111" stroke-width="1.9" />
<line x1="187.3" y1="857.9" x2="191.7" y2="857.9" stroke="#111" stroke-width="1.9" />
<line x1="207.9" y1="768.6" x2="207.9" y2="797.7" stroke="#111" stroke-width="1.9" />
<line x1="205.7" y1="768.6" x2="210.1" y2="768.6" stroke="#111" stroke-width="1.9" />
<line x1="223" y1="860.2" x2="223" y2="874.5" stroke="#111" stroke-width="1.9" />
<line x1="220.8" y1="860.2" x2="225.2" y2="860.2" stroke="#111" stroke-width="1.9" />
<line x1="241.6" y1="767.3" x2="241.6" y2="813.8" stroke="#111" stroke-width="1.9" />
<line x1="239.4" y1="767.3" x2="243.8" y2="767.3" stroke="#111" stroke-width="1.9" />
<line x1="275.2" y1="793.2" x2="275.2" y2="815.5" stroke="#111" stroke-width="1.9" />
<line x1="273" y1="793.2" x2="277.4" y2="793.2" stroke="#111" stroke-width="1.9" />
<line x1="308.6" y1="814.6" x2="308.6" y2="837" stroke="#111" stroke-width="1.9" />
<line x1="306.4" y1="814.6" x2="310.8" y2="814.6" stroke="#111" stroke-width="1.9" />
<line x1="323.8" y1="856.6" x2="323.8" y2="892.3" stroke="#111" stroke-width="1.9" />
<line x1="321.6" y1="856.6" x2="325.9" y2="856.6" stroke="#111" stroke-width="1.9" />
<line x1="341.8" y1="790.5" x2="341.8" y2="816.4" stroke="#111" stroke-width="1.9" />
<line x1="339.6" y1="790.5" x2="344" y2="790.5" stroke="#111" stroke-width="1.9" />
<line x1="357.3" y1="877.5" x2="357.3" y2="928.9" stroke="#111" stroke-width="1.9" />
<line x1="355.1" y1="877.5" x2="359.5" y2="877.5" stroke="#111" stroke-width="1.9" />
<line x1="375.5" y1="816.4" x2="375.5" y2="841.4" stroke="#111" stroke-width="1.9" />
<line x1="373.3" y1="816.4" x2="377.7" y2="816.4" stroke="#111" stroke-width="1.9" />
<line x1="390.7" y1="885.7" x2="390.7" y2="894.1" stroke="#111" stroke-width="1.9" />
<line x1="388.5" y1="885.7" x2="392.9" y2="885.7" stroke="#111" stroke-width="1.9" />
<path d="M148.4,803.9 C150.9,801.2 158.1,792.6 163.6,787.9 C169.1,783.1 175.5,778 181.4,775.4 C187.4,772.7 193.3,772.1 199.3,771.8 C205.2,771.5 211.2,771.8 217.1,773.6 C223.1,775.4 229,779.2 235,782.5 C241,785.8 246.9,789.9 252.9,793.2 C258.8,796.5 264.8,799.5 270.7,802.1 C276.7,804.8 282.6,807.4 288.6,809.3 C294.5,811.2 300.5,812.6 306.4,813.8 C312.4,814.9 318.3,815.6 324.3,816.4 C330.2,817.3 336.2,818 342.1,818.8 C348.1,819.5 353.3,820.1 360,820.9 C366.7,821.6 378.6,822.8 382.3,823.2" fill="none" stroke="#6B2F8E" stroke-width="3.6" stroke-linecap="round"/>
<path d="M149.3,861.6 C152.6,862.6 162.1,865.2 168.9,867.3 C175.8,869.5 183.8,872.4 190.4,874.5 C196.9,876.5 202.3,878 208.2,879.8 C214.2,881.6 218.9,883.6 226.1,885.2 C233.2,886.8 243.6,889.6 251.1,889.3 C258.5,889 264.5,884.8 270.7,883.4 C277,882 282.6,881.6 288.6,880.7 C294.5,879.8 300.5,878.2 306.4,878 C312.4,877.9 318.3,878.5 324.3,879.8 C330.2,881.2 336.2,884.1 342.1,886.1 C348.1,888 353.3,889.3 360,891.4 C366.7,893.5 378.6,897.4 382.3,898.6" fill="none" stroke="#F3DC3C" stroke-width="3.6" stroke-linecap="round"/>
<circle cx="141.2" cy="777.7" r="4.1" fill="#111" />
<circle cx="141.2" cy="812" r="4.1" fill="#111" />
<circle cx="136.4" cy="825.4" r="4.1" fill="#111" />
<circle cx="145.7" cy="825.4" r="4.1" fill="#111" />
<circle cx="156.1" cy="846.4" r="4.1" fill="#111" />
<circle cx="156.1" cy="875.4" r="4.1" fill="#111" />
<circle cx="173.9" cy="733.9" r="4.1" fill="#111" />
<circle cx="169.8" cy="771.8" r="4.1" fill="#111" />
<circle cx="178.8" cy="771.8" r="4.1" fill="#111" />
<circle cx="189.5" cy="857.9" r="4.1" fill="#111" />
<circle cx="189.5" cy="889.6" r="4.1" fill="#111" />
<circle cx="207.9" cy="746.8" r="4.1" fill="#111" />
<circle cx="207.9" cy="779.8" r="4.1" fill="#111" />
<circle cx="203.2" cy="797.7" r="4.1" fill="#111" />
<circle cx="212.7" cy="797.7" r="4.1" fill="#111" />
<circle cx="223" cy="860.2" r="4.1" fill="#111" />
<circle cx="223" cy="874.5" r="4.1" fill="#111" />
<circle cx="241.2" cy="729.3" r="4.1" fill="#111" />
<circle cx="236.8" cy="807.5" r="4.1" fill="#111" />
<circle cx="241.6" cy="807.5" r="4.1" fill="#111" />
<circle cx="246.1" cy="807.5" r="4.1" fill="#111" />
<circle cx="241.2" cy="826.8" r="4.1" fill="#111" />
<circle cx="256.4" cy="906.2" r="4.1" fill="#111" />
<circle cx="270.2" cy="789.3" r="4.1" fill="#111" />
<circle cx="279.6" cy="789.3" r="4.1" fill="#111" />
<circle cx="275.2" cy="805.7" r="4.1" fill="#111" />
<circle cx="275.2" cy="833.9" r="4.1" fill="#111" />
<circle cx="290.4" cy="872.7" r="4.1" fill="#111" />
<circle cx="308.6" cy="800.4" r="4.1" fill="#111" />
<circle cx="308.6" cy="814.6" r="4.1" fill="#111" />
<circle cx="304.3" cy="843.2" r="4.1" fill="#111" />
<circle cx="313.2" cy="843.2" r="4.1" fill="#111" />
<circle cx="323.8" cy="856.6" r="4.1" fill="#111" />
<circle cx="323.8" cy="892.3" r="4.1" fill="#111" />
<circle cx="341.8" cy="779.5" r="4.1" fill="#111" />
<circle cx="341.8" cy="805.7" r="4.1" fill="#111" />
<circle cx="341.8" cy="829.8" r="4.1" fill="#111" />
<circle cx="357.3" cy="877.5" r="4.1" fill="#111" />
<circle cx="357.3" cy="928.9" r="4.1" fill="#111" />
<circle cx="375.5" cy="795.9" r="4.1" fill="#111" />
<circle cx="371.1" cy="830.7" r="4.1" fill="#111" />
<circle cx="375.5" cy="830.7" r="4.1" fill="#111" />
<circle cx="380" cy="830.7" r="4.1" fill="#111" />
<circle cx="375.5" cy="858.4" r="4.1" fill="#111" />
<circle cx="390.7" cy="885.7" r="4.1" fill="#111" />
<circle cx="390.7" cy="901.2" r="4.1" fill="#111" />
<line x1="128.6" y1="732.4" x2="128.6" y2="1009.3" stroke="#111" stroke-width="2.2" />
<line x1="117.3" y1="1008.3" x2="402.9" y2="1008.3" stroke="#111" stroke-width="2.2" />
<line x1="148.3" y1="1008.3" x2="148.3" y2="1020.3" stroke="#111" stroke-width="2.2" />
<line x1="181.8" y1="1008.3" x2="181.8" y2="1020.3" stroke="#111" stroke-width="2.2" />
<line x1="215.3" y1="1008.3" x2="215.3" y2="1020.3" stroke="#111" stroke-width="2.2" />
<line x1="248.8" y1="1008.3" x2="248.8" y2="1020.3" stroke="#111" stroke-width="2.2" />
<line x1="282.3" y1="1008.3" x2="282.3" y2="1020.3" stroke="#111" stroke-width="2.2" />
<line x1="315.8" y1="1008.3" x2="315.8" y2="1020.3" stroke="#111" stroke-width="2.2" />
<line x1="349.3" y1="1008.3" x2="349.3" y2="1020.3" stroke="#111" stroke-width="2.2" />
<line x1="382.8" y1="1008.3" x2="382.8" y2="1020.3" stroke="#111" stroke-width="2.2" />
<line x1="117.5" y1="733.4" x2="127.9" y2="733.4" stroke="#111" stroke-width="2.2" />
<line x1="117.5" y1="870.9" x2="127.9" y2="870.9" stroke="#111" stroke-width="2.2" />
<line x1="117.5" y1="1008.3" x2="127.9" y2="1008.3" stroke="#111" stroke-width="2.2" />
<text x="68.2" y="750.5" font-size="35.5" textLength="37.7" lengthAdjust="spacingAndGlyphs" stroke="#111" stroke-width="0.36">70</text>
<text x="67" y="885.2" font-size="35.5" textLength="38.3" lengthAdjust="spacingAndGlyphs" stroke="#111" stroke-width="0.31">35</text>
<text x="86.7" y="1022.6" font-size="35.5" textLength="19.6" lengthAdjust="spacingAndGlyphs" stroke="#111" stroke-width="0.24">0</text>
<text x="156" y="702.8" font-size="32.5" textLength="180.7" lengthAdjust="spacingAndGlyphs">Apoe (GAT)</text>
<text x="27.2" y="1023" font-size="37" textLength="288.8" lengthAdjust="spacingAndGlyphs" transform="rotate(-90 27.2 1023)" stroke="#111" stroke-width="0.35">Norm. counts [x10</text>
<text x="14.8" y="733.4" font-size="20.5" textLength="10.3" lengthAdjust="spacingAndGlyphs" transform="rotate(-90 14.8 733.4)" stroke="#111" stroke-width="0.30">3</text>
<text x="25.2" y="721.9" font-size="33" textLength="9" lengthAdjust="spacingAndGlyphs" transform="rotate(-90 25.2 721.9)" stroke="#111" stroke-width="0.24">]</text>
<text x="148.5" y="1050.3" font-size="33" transform="rotate(-45 148.5 1050.3)" stroke="#111" stroke-width="0.20">1</text>
<text x="248.4" y="1057.1" font-size="33" transform="rotate(-45 248.4 1057.1)" stroke="#111" stroke-width="0.20">9</text>
<text x="342.4" y="1064.4" font-size="33" transform="rotate(-45 342.4 1064.4)" stroke="#111" stroke-width="0.20">18</text>
<rect x="580.2" y="937" width="14.8" height="70.5" fill="#14ABDD" />
<rect x="595.6" y="913.8" width="14.8" height="93.8" fill="#C6282D" />
<rect x="613.7" y="939.5" width="14.8" height="68" fill="#14ABDD" />
<rect x="629.1" y="947.5" width="14.8" height="60" fill="#C6282D" />
<rect x="647.1" y="967" width="14.8" height="40.5" fill="#14ABDD" />
<rect x="662.5" y="930.5" width="14.8" height="77" fill="#C6282D" />
<rect x="680.6" y="950" width="14.8" height="57.5" fill="#14ABDD" />
<rect x="696" y="828.8" width="14.8" height="178.8" fill="#C6282D" />
<rect x="714" y="943.8" width="14.8" height="63.8" fill="#14ABDD" />
<rect x="729.4" y="935" width="14.8" height="72.5" fill="#C6282D" />
<rect x="747.5" y="916.2" width="14.8" height="91.2" fill="#14ABDD" />
<rect x="762.9" y="947" width="14.8" height="60.5" fill="#C6282D" />
<rect x="780.9" y="949.5" width="14.8" height="58" fill="#14ABDD" />
<rect x="796.3" y="932.5" width="14.8" height="75" fill="#C6282D" />
<rect x="814.4" y="926.2" width="14.8" height="81.2" fill="#14ABDD" />
<rect x="829.8" y="971.2" width="14.8" height="36.2" fill="#C6282D" />
<line x1="587.5" y1="923.8" x2="587.5" y2="950" stroke="#111" stroke-width="1.9" />
<line x1="585.3" y1="923.8" x2="589.7" y2="923.8" stroke="#111" stroke-width="1.9" />
<line x1="620" y1="930" x2="620" y2="942.5" stroke="#111" stroke-width="1.9" />
<line x1="617.8" y1="930" x2="622.2" y2="930" stroke="#111" stroke-width="1.9" />
<line x1="654.5" y1="957.5" x2="654.5" y2="972.5" stroke="#111" stroke-width="1.9" />
<line x1="652.3" y1="957.5" x2="656.7" y2="957.5" stroke="#111" stroke-width="1.9" />
<line x1="687" y1="931.2" x2="687" y2="967.5" stroke="#111" stroke-width="1.9" />
<line x1="684.8" y1="931.2" x2="689.2" y2="931.2" stroke="#111" stroke-width="1.9" />
<line x1="702.5" y1="739.5" x2="702.5" y2="917.5" stroke="#111" stroke-width="1.9" />
<line x1="700.3" y1="739.5" x2="704.7" y2="739.5" stroke="#111" stroke-width="1.9" />
<line x1="721.2" y1="922.5" x2="721.2" y2="960" stroke="#111" stroke-width="1.9" />
<line x1="719" y1="922.5" x2="723.5" y2="922.5" stroke="#111" stroke-width="1.9" />
<line x1="755" y1="907.5" x2="755" y2="928.8" stroke="#111" stroke-width="1.9" />
<line x1="752.8" y1="907.5" x2="757.2" y2="907.5" stroke="#111" stroke-width="1.9" />
<line x1="770" y1="931.2" x2="770" y2="947.5" stroke="#111" stroke-width="1.9" />
<line x1="767.8" y1="931.2" x2="772.2" y2="931.2" stroke="#111" stroke-width="1.9" />
<line x1="788" y1="942.5" x2="788" y2="967.5" stroke="#111" stroke-width="1.9" />
<line x1="785.8" y1="942.5" x2="790.2" y2="942.5" stroke="#111" stroke-width="1.9" />
<line x1="803.8" y1="914.5" x2="803.8" y2="932.5" stroke="#111" stroke-width="1.9" />
<line x1="801.5" y1="914.5" x2="806" y2="914.5" stroke="#111" stroke-width="1.9" />
<line x1="821.2" y1="903.8" x2="821.2" y2="947.5" stroke="#111" stroke-width="1.9" />
<line x1="819" y1="903.8" x2="823.5" y2="903.8" stroke="#111" stroke-width="1.9" />
<line x1="837.5" y1="961.2" x2="837.5" y2="971.2" stroke="#111" stroke-width="1.9" />
<line x1="835.3" y1="961.2" x2="839.7" y2="961.2" stroke="#111" stroke-width="1.9" />
<path d="M595,933.8 C597.5,935 604.2,939 610,941.2 C615.8,943.5 622.5,945.2 630,947.5 C637.5,949.8 646.7,953.1 655,955 C663.3,956.9 672.9,958.5 680,958.8 C687.1,959 692.5,958.1 697.5,956.2 C702.5,954.4 705.8,950.6 710,947.5 C714.2,944.4 718.3,939.7 722.5,937.5 C726.7,935.3 728.8,935 735,934.5 C741.2,934 751.7,934.3 760,934.2 C768.3,934.2 773.5,934.5 785,934.2 C796.5,934 821.9,933.2 829.2,933" fill="none" stroke="#6B2F8E" stroke-width="3.6" stroke-linecap="round"/>
<path d="M595,918.8 C597.5,919.8 605,923.9 610,925 C615,926.1 620,926.8 625,925.5 C630,924.2 634.6,920.9 640,917.5 C645.4,914.1 651.7,909.6 657.5,905 C663.3,900.4 668.8,895.1 675,890 C681.2,884.9 689.2,875.8 695,874.5 C700.8,873.2 705,878.2 710,882.5 C715,886.8 720,893.8 725,900 C730,906.2 735,913.8 740,920 C745,926.2 750,932.9 755,937.5 C760,942.1 765,945.2 770,947.5 C775,949.8 778.3,949.6 785,951.2 C791.7,952.9 802.6,955.6 810,957.5 C817.4,959.4 826,961.7 829.2,962.5" fill="none" stroke="#F3DC3C" stroke-width="3.6" stroke-linecap="round"/>
<circle cx="587.5" cy="906.2" r="4.1" fill="#111" />
<circle cx="587.5" cy="933.8" r="4.1" fill="#111" />
<circle cx="587.5" cy="943.8" r="4.1" fill="#111" />
<circle cx="587.5" cy="965.5" r="4.1" fill="#111" />
<circle cx="596.2" cy="910" r="4.1" fill="#111" />
<circle cx="602.5" cy="910" r="4.1" fill="#111" />
<circle cx="608.8" cy="910" r="4.1" fill="#111" />
<circle cx="616.2" cy="930" r="4.1" fill="#111" />
<circle cx="623.8" cy="930" r="4.1" fill="#111" />
<circle cx="617.5" cy="940" r="4.1" fill="#111" />
<circle cx="625" cy="940" r="4.1" fill="#111" />
<circle cx="632.5" cy="945" r="4.1" fill="#111" />
<circle cx="638" cy="945" r="4.1" fill="#111" />
<circle cx="643" cy="945" r="4.1" fill="#111" />
<circle cx="645" cy="960" r="4.1" fill="#111" />
<circle cx="654.5" cy="960" r="4.1" fill="#111" />
<circle cx="663.8" cy="960" r="4.1" fill="#111" />
<circle cx="654.5" cy="991.2" r="4.1" fill="#111" />
<circle cx="669.5" cy="925" r="4.1" fill="#111" />
<circle cx="669.5" cy="936.2" r="4.1" fill="#111" />
<circle cx="687" cy="908.8" r="4.1" fill="#111" />
<circle cx="687" cy="941.2" r="4.1" fill="#111" />
<circle cx="687" cy="955" r="4.1" fill="#111" />
<circle cx="687" cy="994.5" r="4.1" fill="#111" />
<circle cx="703.8" cy="739.5" r="4.1" fill="#111" />
<circle cx="702.5" cy="917.5" r="4.1" fill="#111" />
<circle cx="721.2" cy="914.5" r="4.1" fill="#111" />
<circle cx="721.2" cy="926.2" r="4.1" fill="#111" />
<circle cx="716.2" cy="967" r="4.1" fill="#111" />
<circle cx="726.2" cy="967" r="4.1" fill="#111" />
<circle cx="736.2" cy="926.2" r="4.1" fill="#111" />
<circle cx="736.2" cy="943.8" r="4.1" fill="#111" />
<circle cx="755" cy="897.5" r="4.1" fill="#111" />
<circle cx="750" cy="913" r="4.1" fill="#111" />
<circle cx="760" cy="913" r="4.1" fill="#111" />
<circle cx="755" cy="946.2" r="4.1" fill="#111" />
<circle cx="770" cy="931.2" r="4.1" fill="#111" />
<circle cx="770" cy="961.2" r="4.1" fill="#111" />
<circle cx="788" cy="928" r="4.1" fill="#111" />
<circle cx="788" cy="952.5" r="4.1" fill="#111" />
<circle cx="788" cy="985" r="4.1" fill="#111" />
<circle cx="803.8" cy="914.5" r="4.1" fill="#111" />
<circle cx="803.8" cy="950" r="4.1" fill="#111" />
<circle cx="821.2" cy="883.2" r="4.1" fill="#111" />
<circle cx="815" cy="947.5" r="4.1" fill="#111" />
<circle cx="821.2" cy="947.5" r="4.1" fill="#111" />
<circle cx="827.5" cy="947.5" r="4.1" fill="#111" />
<circle cx="837.5" cy="961.2" r="4.1" fill="#111" />
<circle cx="837.5" cy="980.8" r="4.1" fill="#111" />
<line x1="575.5" y1="732.8" x2="575.5" y2="1008.5" stroke="#111" stroke-width="2.2" />
<line x1="563.8" y1="1007.5" x2="848.8" y2="1007.5" stroke="#111" stroke-width="2.2" />
<line x1="595" y1="1007.5" x2="595" y2="1019.5" stroke="#111" stroke-width="2.2" />
<line x1="628.5" y1="1007.5" x2="628.5" y2="1019.5" stroke="#111" stroke-width="2.2" />
<line x1="661.9" y1="1007.5" x2="661.9" y2="1019.5" stroke="#111" stroke-width="2.2" />
<line x1="695.4" y1="1007.5" x2="695.4" y2="1019.5" stroke="#111" stroke-width="2.2" />
<line x1="728.8" y1="1007.5" x2="728.8" y2="1019.5" stroke="#111" stroke-width="2.2" />
<line x1="762.2" y1="1007.5" x2="762.2" y2="1019.5" stroke="#111" stroke-width="2.2" />
<line x1="795.7" y1="1007.5" x2="795.7" y2="1019.5" stroke="#111" stroke-width="2.2" />
<line x1="829.2" y1="1007.5" x2="829.2" y2="1019.5" stroke="#111" stroke-width="2.2" />
<line x1="564" y1="732.8" x2="575.5" y2="732.8" stroke="#111" stroke-width="2.2" />
<line x1="564" y1="824.9" x2="575.5" y2="824.9" stroke="#111" stroke-width="2.2" />
<line x1="564" y1="917" x2="575.5" y2="917" stroke="#111" stroke-width="2.2" />
<line x1="564" y1="1007.5" x2="575.5" y2="1007.5" stroke="#111" stroke-width="2.2" />
<text x="521" y="750.5" font-size="35" textLength="35.7" lengthAdjust="spacingAndGlyphs" stroke="#111" stroke-width="0.47">15</text>
<text x="520.9" y="837.6" font-size="35" textLength="37.8" lengthAdjust="spacingAndGlyphs" stroke="#111" stroke-width="0.30">10</text>
<text x="539.9" y="929" font-size="35" textLength="16.6" lengthAdjust="spacingAndGlyphs" stroke="#111" stroke-width="0.67">5</text>
<text x="539" y="1019" font-size="35" textLength="19.7" lengthAdjust="spacingAndGlyphs" stroke="#111" stroke-width="0.17">0</text>
<text x="583.8" y="703.8" font-size="32.5" textLength="228" lengthAdjust="spacingAndGlyphs">Axin2 (Spleen)</text>
<text x="496.1" y="1023" font-size="37" textLength="288.8" lengthAdjust="spacingAndGlyphs" transform="rotate(-90 496.1 1023)" stroke="#111" stroke-width="0.35">Norm. counts [x10</text>
<text x="483.2" y="734.6" font-size="20.5" textLength="12.5" lengthAdjust="spacingAndGlyphs" transform="rotate(-90 483.2 734.6)">2</text>
<text x="494.1" y="721.7" font-size="33" textLength="9" lengthAdjust="spacingAndGlyphs" transform="rotate(-90 494.1 721.7)" stroke="#111" stroke-width="0.24">]</text>
<text x="593.7" y="1052.9" font-size="33" transform="rotate(-45 593.7 1052.9)" stroke="#111" stroke-width="0.20">1</text>
<text x="694.1" y="1058.3" font-size="33" transform="rotate(-45 694.1 1058.3)" stroke="#111" stroke-width="0.20">9</text>
<text x="788.4" y="1066.4" font-size="33" transform="rotate(-45 788.4 1066.4)" stroke="#111" stroke-width="0.20">18</text>
<rect x="300.7" y="1075.4" width="36.4" height="36.5" fill="#1B8FD0" />
<line x1="303.9" y1="1108.9" x2="333.9" y2="1079.3" stroke="#5B2C8C" stroke-width="2.8" />
<text x="349.9" y="1105" font-size="29.6" textLength="73.9" lengthAdjust="spacingAndGlyphs" stroke="#111" stroke-width="0.35">Males</text>
<rect x="475.3" y="1075.4" width="37.1" height="36.5" fill="#C22428" />
<line x1="478.5" y1="1108.9" x2="509" y2="1079" stroke="#F5C040" stroke-width="3" />
<text x="525.2" y="1105" font-size="29.6" textLength="104.3" lengthAdjust="spacingAndGlyphs" stroke="#111" stroke-width="0.39">Females</text>
<text x="5.3" y="1218.6" font-size="47" font-weight="bold" textLength="26.1" lengthAdjust="spacingAndGlyphs">d</text>
<text x="19.6" y="1288.6" font-size="35" textLength="383.1" lengthAdjust="spacingAndGlyphs">Up-regulated in females</text>
<text x="474.6" y="1288.9" font-size="35" textLength="433.9" lengthAdjust="spacingAndGlyphs">Down-regualted in females</text>
<ellipse cx="193" cy="1410.5" rx="106.5" ry="101.5" fill="#B1EBDF" />
<ellipse cx="284.8" cy="1410" rx="75.3" ry="71.5" fill="#CDC8EB" />
<clipPath id="vc0"><ellipse cx="193" cy="1410.5" rx="106.5" ry="101.5"/></clipPath>
<ellipse cx="284.8" cy="1410" rx="75.3" ry="71.5" fill="#FDBB66" clip-path="url(#vc0)"/>
<text x="119.5" y="1418.6" font-size="27.1" textLength="51.5" lengthAdjust="spacingAndGlyphs">629</text>
<text x="227.1" y="1418.6" font-size="27.1" textLength="50.3" lengthAdjust="spacingAndGlyphs">240</text>
<text x="304.5" y="1418.6" font-size="27.1" textLength="48.1" lengthAdjust="spacingAndGlyphs">195</text>
<text x="219.6 238.7 257.7" y="1359 1359 1359" rotate="90" font-size="37" style="font-family:'WenQuanYi Zen Hei',sans-serif">***</text>
<ellipse cx="637" cy="1410" rx="97" ry="92.6" fill="#B1EBDF" />
<ellipse cx="723.7" cy="1410" rx="90.7" ry="85.7" fill="#CDC8EB" />
<clipPath id="vc1"><ellipse cx="637" cy="1410" rx="97" ry="92.6"/></clipPath>
<ellipse cx="723.7" cy="1410" rx="90.7" ry="85.7" fill="#FDBB66" clip-path="url(#vc1)"/>
<text x="558.8" y="1418.6" font-size="27.1" textLength="51" lengthAdjust="spacingAndGlyphs">380</text>
<text x="655.4" y="1418.6" font-size="27.1" textLength="53.7" lengthAdjust="spacingAndGlyphs">262</text>
<text x="747.1" y="1418.6" font-size="27.1" textLength="51.3" lengthAdjust="spacingAndGlyphs">285</text>
<text x="646.3 665.3 684.2" y="1362 1362 1362" rotate="90" font-size="37" style="font-family:'WenQuanYi Zen Hei',sans-serif">***</text>
<ellipse cx="199.3" cy="1686.6" rx="113.7" ry="108" fill="#B1EBDF" />
<ellipse cx="255" cy="1686.9" rx="103.7" ry="98.6" fill="#CDC8EB" />
<clipPath id="vc2"><ellipse cx="199.3" cy="1686.6" rx="113.7" ry="108"/></clipPath>
<ellipse cx="255" cy="1686.9" rx="103.7" ry="98.6" fill="#FDBB66" clip-path="url(#vc2)"/>
<text x="93.1" y="1695.7" font-size="27.1" textLength="52" lengthAdjust="spacingAndGlyphs">354</text>
<text x="204.5" y="1695.7" font-size="27.1" textLength="51.3" lengthAdjust="spacingAndGlyphs">589</text>
<text x="309.9" y="1695.7" font-size="27.1" textLength="50.5" lengthAdjust="spacingAndGlyphs">209</text>
<text x="189.2 208.2 227.1" y="1645 1645 1645" rotate="90" font-size="37" style="font-family:'WenQuanYi Zen Hei',sans-serif">***</text>
<ellipse cx="629.4" cy="1686.6" rx="89.4" ry="85.1" fill="#B1EBDF" />
<ellipse cx="729.4" cy="1686.5" rx="84.9" ry="79.5" fill="#CDC8EB" />
<clipPath id="vc3"><ellipse cx="629.4" cy="1686.6" rx="89.4" ry="85.1"/></clipPath>
<ellipse cx="729.4" cy="1686.5" rx="84.9" ry="79.5" fill="#FDBB66" clip-path="url(#vc3)"/>
<text x="565.1" y="1695.7" font-size="27.1" textLength="50.5" lengthAdjust="spacingAndGlyphs">453</text>
<text x="654.7" y="1695.7" font-size="27.1" textLength="52.1" lengthAdjust="spacingAndGlyphs">194</text>
<text x="740.5" y="1695.7" font-size="27.1" textLength="50.5" lengthAdjust="spacingAndGlyphs">373</text>
<text x="646.3 665.3 684.2" y="1645 1645 1645" rotate="90" font-size="37" style="font-family:'WenQuanYi Zen Hei',sans-serif">***</text>
<ellipse cx="190.6" cy="1957.4" rx="104.9" ry="98.6" fill="#B1EBDF" />
<ellipse cx="264.9" cy="1957.4" rx="95.1" ry="90" fill="#CDC8EB" />
<clipPath id="vc4"><ellipse cx="190.6" cy="1957.4" rx="104.9" ry="98.6"/></clipPath>
<ellipse cx="264.9" cy="1957.4" rx="95.1" ry="90" fill="#FDBB66" clip-path="url(#vc4)"/>
<text x="100.6" y="1966.9" font-size="27.1" textLength="50.7" lengthAdjust="spacingAndGlyphs">132</text>
<text x="204.6" y="1966.9" font-size="27.1" textLength="51" lengthAdjust="spacingAndGlyphs">128</text>
<text x="311.6" y="1966.9" font-size="27.1" textLength="35.7" lengthAdjust="spacingAndGlyphs">89</text>
<text x="189.2 208.2 227.1" y="1913 1913 1913" rotate="90" font-size="37" style="font-family:'WenQuanYi Zen Hei',sans-serif">***</text>
<ellipse cx="641.4" cy="1957.1" rx="101.4" ry="95.4" fill="#B1EBDF" />
<ellipse cx="727.1" cy="1957" rx="87.1" ry="82.9" fill="#CDC8EB" />
<clipPath id="vc5"><ellipse cx="641.4" cy="1957.1" rx="101.4" ry="95.4"/></clipPath>
<ellipse cx="727.1" cy="1957" rx="87.1" ry="82.9" fill="#FDBB66" clip-path="url(#vc5)"/>
<text x="563.1" y="1966.9" font-size="27.1" textLength="50.7" lengthAdjust="spacingAndGlyphs">240</text>
<text x="665.2" y="1966.9" font-size="27.1" textLength="49.4" lengthAdjust="spacingAndGlyphs">147</text>
<text x="752" y="1966.9" font-size="27.1" textLength="50.5" lengthAdjust="spacingAndGlyphs">139</text>
<text x="646.3 665.3 684.2" y="1913 1913 1913" rotate="90" font-size="37" style="font-family:'WenQuanYi Zen Hei',sans-serif">***</text>
<ellipse cx="182.9" cy="2234.3" rx="97.1" ry="91.4" fill="#B1EBDF" />
<ellipse cx="262.9" cy="2233.7" rx="97.1" ry="92" fill="#CDC8EB" />
<clipPath id="vc6"><ellipse cx="182.9" cy="2234.3" rx="97.1" ry="91.4"/></clipPath>
<ellipse cx="262.9" cy="2233.7" rx="97.1" ry="92" fill="#FDBB66" clip-path="url(#vc6)"/>
<text x="98.5" y="2242.9" font-size="27.1" textLength="50.2" lengthAdjust="spacingAndGlyphs">255</text>
<text x="195.5" y="2242.9" font-size="27.1" textLength="48.8" lengthAdjust="spacingAndGlyphs">251</text>
<text x="292.8" y="2242.9" font-size="27.1" textLength="51.5" lengthAdjust="spacingAndGlyphs">256</text>
<text x="185.7 204.4 223.1" y="2193 2193 2193" rotate="90" font-size="37" style="font-family:'WenQuanYi Zen Hei',sans-serif">***</text>
<ellipse cx="653.4" cy="2234.3" rx="113.4" ry="107.4" fill="#B1EBDF" />
<ellipse cx="712" cy="2234.3" rx="100.6" ry="95.4" fill="#CDC8EB" />
<clipPath id="vc7"><ellipse cx="653.4" cy="2234.3" rx="113.4" ry="107.4"/></clipPath>
<ellipse cx="712" cy="2234.3" rx="100.6" ry="95.4" fill="#FDBB66" clip-path="url(#vc7)"/>
<text x="548" y="2242.9" font-size="27.1" textLength="50.4" lengthAdjust="spacingAndGlyphs">466</text>
<text x="661.4" y="2242.9" font-size="27.1" textLength="51.7" lengthAdjust="spacingAndGlyphs">642</text>
<text x="763.1" y="2242.9" font-size="27.1" textLength="49.6" lengthAdjust="spacingAndGlyphs">225</text>
<text x="646.3 665.3 684.2" y="2193 2193 2193" rotate="90" font-size="37" style="font-family:'WenQuanYi Zen Hei',sans-serif">***</text>
<text x="406.5" y="1420" font-size="44" textLength="83" lengthAdjust="spacingAndGlyphs" stroke="#111" stroke-width="0.45">GAT</text>
<text x="398.3" y="1700" font-size="44" textLength="99.6" lengthAdjust="spacingAndGlyphs" stroke="#111" stroke-width="0.77">SCAT</text>
<text x="399.4" y="1976" font-size="44" textLength="93.9" lengthAdjust="spacingAndGlyphs" stroke="#111" stroke-width="0.32">Liver</text>
<text x="382.3" y="2247.6" font-size="44" textLength="130.5" lengthAdjust="spacingAndGlyphs" stroke="#111" stroke-width="0.38">Kidney</text>
<rect x="93.1" y="2400" width="36.4" height="36.4" fill="#B1EBDF" />
<text x="142.5" y="2428.6" font-size="29" textLength="297.1" lengthAdjust="spacingAndGlyphs" stroke="#111" stroke-width="0.21">Tested at 3 months age</text>
<rect x="584" y="2400" width="36.6" height="36.4" fill="#CDC8EB" />
<text x="633.7" y="2428.6" font-size="29" textLength="313.3" lengthAdjust="spacingAndGlyphs" stroke="#111" stroke-width="0.21">Tested at 18 months age</text>
<text x="960.9" y="734.2" font-size="47" font-weight="bold" textLength="23.3" lengthAdjust="spacingAndGlyphs">e</text>
<text x="1652.7" y="700.2" font-size="23.5" textLength="147.4" lengthAdjust="spacingAndGlyphs">-ln(p-value)</text>
<text x="1630.2" y="731.3" font-size="25.5" textLength="15.3" lengthAdjust="spacingAndGlyphs">0</text>
<text x="1803.8" y="731.3" font-size="25.5" textLength="29.6" lengthAdjust="spacingAndGlyphs">13</text>
<defs><linearGradient id="g1" x1="0" y1="0" x2="1" y2="0"><stop offset="0.0000" stop-color="#DCDFF4"/><stop offset="0.1344" stop-color="#DCDFF4"/><stop offset="0.1344" stop-color="#E3E5F6"/><stop offset="0.5590" stop-color="#E6E8F7"/><stop offset="0.5590" stop-color="#FDE0E0"/><stop offset="0.8299" stop-color="#FCE4E4"/><stop offset="0.8486" stop-color="#FCEAEA"/><stop offset="0.8486" stop-color="#F9B8B8"/><stop offset="1.0000" stop-color="#F9B8B8"/></linearGradient></defs>
<rect x="1639.8" y="775.5" width="176.4" height="23.9" fill="url(#g1)" stroke="#111" stroke-width="1.7"/>
<defs><linearGradient id="g2" x1="0" y1="0" x2="1" y2="0"><stop offset="0.0000" stop-color="#C8CCEE"/><stop offset="0.3098" stop-color="#C8CCEE"/><stop offset="0.3098" stop-color="#D5D8F2"/><stop offset="0.6479" stop-color="#D5D8F2"/><stop offset="0.6479" stop-color="#E6E8F6"/><stop offset="0.8089" stop-color="#E6E8F6"/><stop offset="0.8089" stop-color="#FCDFDF"/><stop offset="1.0000" stop-color="#FCDFDF"/></linearGradient></defs>
<rect x="1639.8" y="817.4" width="172.7" height="24.1" fill="url(#g2)" stroke="#111" stroke-width="1.7"/>
<defs><linearGradient id="g3" x1="0" y1="0" x2="1" y2="0"><stop offset="0.0000" stop-color="#2A2AA0"/><stop offset="0.0158" stop-color="#2A2AA0"/><stop offset="0.0158" stop-color="#A8ADE4"/><stop offset="0.0700" stop-color="#B0B4E6"/><stop offset="0.0700" stop-color="#C8CCEE"/><stop offset="0.2461" stop-color="#CDD0EF"/><stop offset="0.2461" stop-color="#D6D9F2"/><stop offset="0.5886" stop-color="#E8E9F6"/><stop offset="0.5886" stop-color="#FCE0E0"/><stop offset="0.6391" stop-color="#FCE0E0"/><stop offset="0.6391" stop-color="#F9B4B4"/><stop offset="0.8562" stop-color="#F8A8A8"/><stop offset="0.8562" stop-color="#F07070"/><stop offset="0.9110" stop-color="#F07070"/><stop offset="0.9110" stop-color="#E03428"/><stop offset="1.0000" stop-color="#E03428"/></linearGradient></defs>
<rect x="1639.8" y="859.5" width="158.5" height="24.2" fill="url(#g3)" stroke="#111" stroke-width="1.7"/>
<defs><linearGradient id="g4" x1="0" y1="0" x2="1" y2="0"><stop offset="0.0000" stop-color="#B8BCEA"/><stop offset="0.0554" stop-color="#B8BCEA"/><stop offset="0.0554" stop-color="#D0D3F0"/><stop offset="0.3142" stop-color="#D8DBF3"/><stop offset="0.3142" stop-color="#E0E2F5"/><stop offset="0.6082" stop-color="#E8E9F6"/><stop offset="0.6082" stop-color="#FCE4E4"/><stop offset="0.6773" stop-color="#FCE4E4"/><stop offset="0.6773" stop-color="#FAC8C8"/><stop offset="0.8846" stop-color="#F8B0B0"/><stop offset="0.8846" stop-color="#F07070"/><stop offset="0.9022" stop-color="#F07070"/><stop offset="0.9022" stop-color="#E03428"/><stop offset="1.0000" stop-color="#E03428"/></linearGradient></defs>
<rect x="1639.8" y="901.4" width="153.4" height="24.4" fill="url(#g4)" stroke="#111" stroke-width="1.7"/>
<defs><linearGradient id="g5" x1="0" y1="0" x2="1" y2="0"><stop offset="0.0000" stop-color="#B8BCEA"/><stop offset="0.0653" stop-color="#B8BCEA"/><stop offset="0.0653" stop-color="#D5D8F2"/><stop offset="0.5427" stop-color="#E8E9F6"/><stop offset="0.5427" stop-color="#FCE0E0"/><stop offset="0.8167" stop-color="#F8B8B8"/><stop offset="0.8167" stop-color="#F49090"/><stop offset="0.9093" stop-color="#F07070"/><stop offset="0.9093" stop-color="#E03428"/><stop offset="1.0000" stop-color="#E03428"/></linearGradient></defs>
<rect x="1639.8" y="943.4" width="150" height="24.3" fill="url(#g5)" stroke="#111" stroke-width="1.7"/>
<defs><linearGradient id="g6" x1="0" y1="0" x2="1" y2="0"><stop offset="0.0000" stop-color="#C0C4EC"/><stop offset="0.0777" stop-color="#C0C4EC"/><stop offset="0.0777" stop-color="#D8DBF3"/><stop offset="0.4678" stop-color="#E8E9F6"/><stop offset="0.4678" stop-color="#FCE4E4"/><stop offset="0.7367" stop-color="#F9C0C0"/><stop offset="0.7367" stop-color="#F8B0B0"/><stop offset="0.8950" stop-color="#F6A0A0"/><stop offset="0.8950" stop-color="#E03428"/><stop offset="1.0000" stop-color="#E03428"/></linearGradient></defs>
<rect x="1639.8" y="985.5" width="142.8" height="24.3" fill="url(#g6)" stroke="#111" stroke-width="1.7"/>
<defs><linearGradient id="g7" x1="0" y1="0" x2="1" y2="0"><stop offset="0.0000" stop-color="#B8BCEA"/><stop offset="0.1112" stop-color="#B8BCEA"/><stop offset="0.1112" stop-color="#D8DBF3"/><stop offset="0.5820" stop-color="#E8E9F6"/><stop offset="0.5820" stop-color="#FCE4E4"/><stop offset="0.8621" stop-color="#F8C0C0"/><stop offset="0.8621" stop-color="#F4A0A0"/><stop offset="0.9317" stop-color="#F4A0A0"/><stop offset="0.9317" stop-color="#E03428"/><stop offset="1.0000" stop-color="#E03428"/></linearGradient></defs>
<rect x="1639.8" y="1027.4" width="142.1" height="24.4" fill="url(#g7)" stroke="#111" stroke-width="1.7"/>
<text x="1207" y="795.9" font-size="30.8" textLength="411.8" lengthAdjust="spacingAndGlyphs">Integrin–mediated signaling</text>
<text x="1264.9" y="838.3" font-size="30.8" textLength="351.6" lengthAdjust="spacingAndGlyphs">Membrane raft assembly</text>
<text x="1204.9" y="880.1" font-size="30.8" textLength="413.2" lengthAdjust="spacingAndGlyphs">Regulation of blood pressure</text>
<text x="1120.4" y="922.5" font-size="30.8" textLength="498.4" lengthAdjust="spacingAndGlyphs">Neg. regulation of cell proliferation</text>
<text x="1131.2" y="964.3" font-size="30.8" textLength="487.5" lengthAdjust="spacingAndGlyphs">Pos. regulation of secretion by cell</text>
<text x="1334.6" y="1006.7" font-size="30.8" textLength="282.2" lengthAdjust="spacingAndGlyphs">Gland development</text>
<text x="968.4" y="1048.5" font-size="30.8" textLength="650.4" lengthAdjust="spacingAndGlyphs">Cellular response to organic cyclic compound</text>
<text x="1854.3" y="796.4" font-size="25.5" textLength="16.1" lengthAdjust="spacingAndGlyphs">7</text>
<text x="1845.9" y="837.9" font-size="25.5" textLength="16.9" lengthAdjust="spacingAndGlyphs">6</text>
<text x="1833.9" y="880.4" font-size="25.5" textLength="31.5" lengthAdjust="spacingAndGlyphs">30</text>
<text x="1823.2" y="922.3" font-size="25.5" textLength="33" lengthAdjust="spacingAndGlyphs">68</text>
<text x="1816.6" y="964.3" font-size="25.5" textLength="30.9" lengthAdjust="spacingAndGlyphs">43</text>
<text x="1802" y="1006.8" font-size="25.5" textLength="31.6" lengthAdjust="spacingAndGlyphs">49</text>
<text x="1800.4" y="1048.9" font-size="25.5" textLength="31.1" lengthAdjust="spacingAndGlyphs">43</text>
<line x1="1639.8" y1="745.5" x2="1639.8" y2="1073.8" stroke="#111" stroke-width="2" />
<line x1="1639.8" y1="760.2" x2="1816.2" y2="760.2" stroke="#111" stroke-width="2" />
<line x1="1816.2" y1="745.5" x2="1816.2" y2="761.2" stroke="#111" stroke-width="2" />
<text x="1927.5" y="924.9" font-size="46.5" textLength="82.2" lengthAdjust="spacingAndGlyphs" transform="rotate(-90 1927.5 924.9)" stroke="#111" stroke-width="0.73">GAT</text>
<text x="960.1" y="1164.6" font-size="47" font-weight="bold" textLength="15.4" lengthAdjust="spacingAndGlyphs">f</text>
<text x="1649.6" y="1141.4" font-size="23.5" textLength="146.1" lengthAdjust="spacingAndGlyphs">-ln(p-value)</text>
<text x="1626.4" y="1172.9" font-size="25.5" textLength="15.8" lengthAdjust="spacingAndGlyphs">0</text>
<text x="1800.6" y="1172.9" font-size="25.5" textLength="30.4" lengthAdjust="spacingAndGlyphs">18</text>
<defs><linearGradient id="g8" x1="0" y1="0" x2="1" y2="0"><stop offset="0.0000" stop-color="#B0B4E6"/><stop offset="0.0608" stop-color="#B9BDE9"/><stop offset="0.3697" stop-color="#BCC0EA"/><stop offset="0.3697" stop-color="#D4D7F2"/><stop offset="0.8728" stop-color="#DCDFF4"/><stop offset="0.8728" stop-color="#F8BCBC"/><stop offset="0.9336" stop-color="#F8B0B0"/><stop offset="0.9336" stop-color="#F27C7C"/><stop offset="1.0000" stop-color="#F07070"/></linearGradient></defs>
<rect x="1638.3" y="1214.6" width="176.1" height="22.7" fill="url(#g8)" stroke="#111" stroke-width="1.7"/>
<defs><linearGradient id="g9" x1="0" y1="0" x2="1" y2="0"><stop offset="0.0000" stop-color="#D0D3F0"/><stop offset="0.7131" stop-color="#D8DBF3"/><stop offset="0.7131" stop-color="#FCE4E4"/><stop offset="0.8856" stop-color="#FAC8C8"/><stop offset="0.8856" stop-color="#E85050"/><stop offset="0.9323" stop-color="#E03A30"/><stop offset="1.0000" stop-color="#E03A30"/></linearGradient></defs>
<rect x="1638.3" y="1256.5" width="124.1" height="23.3" fill="url(#g9)" stroke="#111" stroke-width="1.7"/>
<defs><linearGradient id="g10" x1="0" y1="0" x2="1" y2="0"><stop offset="0.0000" stop-color="#D0D3F0"/><stop offset="0.3400" stop-color="#D8DBF3"/><stop offset="0.3400" stop-color="#FCE4E4"/><stop offset="0.8381" stop-color="#F4A0A0"/><stop offset="0.8750" stop-color="#F08080"/><stop offset="0.8750" stop-color="#E03428"/><stop offset="1.0000" stop-color="#E03428"/></linearGradient></defs>
<rect x="1638.3" y="1298.3" width="105.6" height="23.3" fill="url(#g10)" stroke="#111" stroke-width="1.7"/>
<defs><linearGradient id="g11" x1="0" y1="0" x2="1" y2="0"><stop offset="0.0000" stop-color="#B8BCEA"/><stop offset="0.1048" stop-color="#C0C4EC"/><stop offset="0.1048" stop-color="#D2D5F1"/><stop offset="0.7409" stop-color="#DCDEF3"/><stop offset="0.7409" stop-color="#FCE0E0"/><stop offset="0.8773" stop-color="#F4A0A0"/><stop offset="0.8773" stop-color="#E83C30"/><stop offset="1.0000" stop-color="#E03428"/></linearGradient></defs>
<rect x="1638.3" y="1340.3" width="101.1" height="23.5" fill="url(#g11)" stroke="#111" stroke-width="1.7"/>
<defs><linearGradient id="g12" x1="0" y1="0" x2="1" y2="0"><stop offset="0.0000" stop-color="#E0E2F5"/><stop offset="0.0978" stop-color="#E4E6F6"/><stop offset="0.0978" stop-color="#FCDCDC"/><stop offset="0.5776" stop-color="#F4A0A0"/><stop offset="0.5776" stop-color="#E03428"/><stop offset="1.0000" stop-color="#DD3A30"/></linearGradient></defs>
<rect x="1638.3" y="1382.6" width="99.2" height="23.3" fill="url(#g12)" stroke="#111" stroke-width="1.7"/>
<defs><linearGradient id="g13" x1="0" y1="0" x2="1" y2="0"><stop offset="0.0000" stop-color="#FCE0E0"/><stop offset="0.1673" stop-color="#FCD8D8"/><stop offset="0.1673" stop-color="#F4A0A0"/><stop offset="0.2657" stop-color="#F4A0A0"/><stop offset="0.2657" stop-color="#E03028"/><stop offset="1.0000" stop-color="#E03028"/></linearGradient></defs>
<rect x="1638.3" y="1424.4" width="98.6" height="23.7" fill="url(#g13)" stroke="#111" stroke-width="1.7"/>
<defs><linearGradient id="g14" x1="0" y1="0" x2="1" y2="0"><stop offset="0.0000" stop-color="#D0D3F0"/><stop offset="0.3709" stop-color="#DCDEF4"/><stop offset="0.3709" stop-color="#FCE4E4"/><stop offset="0.8740" stop-color="#F6AAAA"/><stop offset="0.8740" stop-color="#E03428"/><stop offset="1.0000" stop-color="#E03428"/></linearGradient></defs>
<rect x="1638.3" y="1466.7" width="96.8" height="23.3" fill="url(#g14)" stroke="#111" stroke-width="1.7"/>
<text x="1217.9" y="1234.2" font-size="30.8" textLength="405.1" lengthAdjust="spacingAndGlyphs">Brown fat cell differentiation</text>
<text x="1001.1" y="1276.6" font-size="30.8" textLength="620.9" lengthAdjust="spacingAndGlyphs">Regulation of cold–induced thermogenesis</text>
<text x="973.1" y="1318.4" font-size="30.8" textLength="650.7" lengthAdjust="spacingAndGlyphs">Transm. receptor protein tyrosine kinase sign.</text>
<text x="1306.1" y="1360.8" font-size="30.8" textLength="316.6" lengthAdjust="spacingAndGlyphs">Fatty acid metabolism</text>
<text x="1234.9" y="1403.3" font-size="30.8" textLength="386.1" lengthAdjust="spacingAndGlyphs">Epithelial cell development</text>
<text x="1082.4" y="1445" font-size="30.8" textLength="539.5" lengthAdjust="spacingAndGlyphs">Mammary gland duct morphogenesis</text>
<text x="1168.6" y="1486.8" font-size="30.8" textLength="454.3" lengthAdjust="spacingAndGlyphs">Pos. regulation of cell migration</text>
<text x="1838.5" y="1234.8" font-size="25.5" textLength="31.6" lengthAdjust="spacingAndGlyphs">18</text>
<text x="1797.5" y="1276.7" font-size="25.5" textLength="28.8" lengthAdjust="spacingAndGlyphs">21</text>
<text x="1779.9" y="1318.9" font-size="25.5" textLength="30.9" lengthAdjust="spacingAndGlyphs">79</text>
<text x="1770.1" y="1360.8" font-size="25.5" textLength="31.8" lengthAdjust="spacingAndGlyphs">63</text>
<text x="1766.9" y="1403.2" font-size="25.5" textLength="31.1" lengthAdjust="spacingAndGlyphs">38</text>
<text x="1765.9" y="1445" font-size="25.5" textLength="31" lengthAdjust="spacingAndGlyphs">10</text>
<text x="1761.4" y="1487.5" font-size="25.5" textLength="31.8" lengthAdjust="spacingAndGlyphs">66</text>
<line x1="1638.3" y1="1185.2" x2="1638.3" y2="1511.2" stroke="#111" stroke-width="2" />
<line x1="1638.3" y1="1197.9" x2="1814.4" y2="1197.9" stroke="#111" stroke-width="2" />
<line x1="1814.4" y1="1185.2" x2="1814.4" y2="1198.9" stroke="#111" stroke-width="2" />
<text x="1928.2" y="1389.3" font-size="46.5" textLength="99.9" lengthAdjust="spacingAndGlyphs" transform="rotate(-90 1928.2 1389.3)" stroke="#111" stroke-width="1.00">SCAT</text>
<text x="961" y="1590.5" font-size="47" font-weight="bold" textLength="24.3" lengthAdjust="spacingAndGlyphs">g</text>
<text x="1642.8" y="1573.1" font-size="23.5" textLength="146.6" lengthAdjust="spacingAndGlyphs">-ln(p-value)</text>
<text x="1619" y="1605.2" font-size="25.5" textLength="15.8" lengthAdjust="spacingAndGlyphs">0</text>
<text x="1791.6" y="1605.2" font-size="25.5" textLength="31.8" lengthAdjust="spacingAndGlyphs">20</text>
<defs><linearGradient id="g15" x1="0" y1="0" x2="1" y2="0"><stop offset="0.0000" stop-color="#3A3AA8"/><stop offset="0.0873" stop-color="#3A3AA8"/><stop offset="0.0873" stop-color="#8088D0"/><stop offset="0.1422" stop-color="#8C94D4"/><stop offset="0.1422" stop-color="#C8CCEE"/><stop offset="0.2465" stop-color="#D0D3F0"/><stop offset="0.2465" stop-color="#FCEAEA"/><stop offset="0.3524" stop-color="#FAD8D8"/><stop offset="0.3524" stop-color="#F6A8A8"/><stop offset="0.5116" stop-color="#F49898"/><stop offset="0.5116" stop-color="#E03428"/><stop offset="0.5603" stop-color="#DD3A30"/><stop offset="1.0000" stop-color="#E03428"/></linearGradient></defs>
<rect x="1631.1" y="1648.7" width="176.5" height="23.3" fill="url(#g15)" stroke="#111" stroke-width="1.7"/>
<defs><linearGradient id="g16" x1="0" y1="0" x2="1" y2="0"><stop offset="0.0000" stop-color="#3A3AA8"/><stop offset="0.0606" stop-color="#3A3AA8"/><stop offset="0.0606" stop-color="#8088D0"/><stop offset="0.1435" stop-color="#9CA2DE"/><stop offset="0.1435" stop-color="#C5C9EE"/><stop offset="0.2922" stop-color="#DCDEF4"/><stop offset="0.2922" stop-color="#FCE8E8"/><stop offset="0.4185" stop-color="#FCE4E4"/><stop offset="0.4185" stop-color="#F8C0C0"/><stop offset="0.6387" stop-color="#F29090"/><stop offset="0.6387" stop-color="#E03428"/><stop offset="1.0000" stop-color="#E03428"/></linearGradient></defs>
<rect x="1631.1" y="1690.6" width="174.9" height="24.1" fill="url(#g16)" stroke="#111" stroke-width="1.7"/>
<defs><linearGradient id="g17" x1="0" y1="0" x2="1" y2="0"><stop offset="0.0000" stop-color="#8C94D8"/><stop offset="0.0438" stop-color="#8C94D8"/><stop offset="0.0438" stop-color="#C8CCEE"/><stop offset="0.1723" stop-color="#D0D3F0"/><stop offset="0.1723" stop-color="#FCE4E4"/><stop offset="0.2339" stop-color="#FCE4E4"/><stop offset="0.2339" stop-color="#F6A8A8"/><stop offset="0.4192" stop-color="#F29C9C"/><stop offset="0.4192" stop-color="#E03428"/><stop offset="1.0000" stop-color="#E03428"/></linearGradient></defs>
<rect x="1631.1" y="1732.8" width="168.9" height="23.4" fill="url(#g17)" stroke="#111" stroke-width="1.7"/>
<defs><linearGradient id="g18" x1="0" y1="0" x2="1" y2="0"><stop offset="0.0000" stop-color="#3A3AA8"/><stop offset="0.0835" stop-color="#3A3AA8"/><stop offset="0.0835" stop-color="#8088D0"/><stop offset="0.3118" stop-color="#C0C4EC"/><stop offset="0.3118" stop-color="#DCDEF4"/><stop offset="0.4947" stop-color="#F0F0F8"/><stop offset="0.4947" stop-color="#FCE4E4"/><stop offset="0.7352" stop-color="#F6B4B4"/><stop offset="0.7352" stop-color="#E03428"/><stop offset="1.0000" stop-color="#E03428"/></linearGradient></defs>
<rect x="1631.1" y="1774.9" width="131.8" height="24" fill="url(#g18)" stroke="#111" stroke-width="1.7"/>
<defs><linearGradient id="g19" x1="0" y1="0" x2="1" y2="0"><stop offset="0.0000" stop-color="#3A3AA8"/><stop offset="0.4463" stop-color="#3A3AA8"/><stop offset="0.4463" stop-color="#5058B8"/><stop offset="0.5690" stop-color="#5058B8"/><stop offset="0.5690" stop-color="#FCDCDC"/><stop offset="0.7071" stop-color="#FCDCDC"/><stop offset="0.7071" stop-color="#E03428"/><stop offset="1.0000" stop-color="#E03428"/></linearGradient></defs>
<rect x="1631.1" y="1817.6" width="65.2" height="22.9" fill="url(#g19)" stroke="#111" stroke-width="1.7"/>
<defs><linearGradient id="g20" x1="0" y1="0" x2="1" y2="0"><stop offset="0.0000" stop-color="#D0D3F0"/><stop offset="0.1125" stop-color="#D0D3F0"/><stop offset="0.1125" stop-color="#FCE4E4"/><stop offset="0.5804" stop-color="#F4A8A8"/><stop offset="0.5804" stop-color="#E03428"/><stop offset="1.0000" stop-color="#E03428"/></linearGradient></defs>
<rect x="1631.1" y="1859.7" width="62.2" height="23.5" fill="url(#g20)" stroke="#111" stroke-width="1.7"/>
<defs><linearGradient id="g21" x1="0" y1="0" x2="1" y2="0"><stop offset="0.0000" stop-color="#3A3AA8"/><stop offset="0.3282" stop-color="#3A3AA8"/><stop offset="0.3282" stop-color="#6870C8"/><stop offset="0.5274" stop-color="#6870C8"/><stop offset="0.5274" stop-color="#A0A6DE"/><stop offset="0.7243" stop-color="#A0A6DE"/><stop offset="0.7243" stop-color="#FCE0E0"/><stop offset="1.0000" stop-color="#FCE0E0"/></linearGradient></defs>
<rect x="1631.1" y="1901.8" width="45.7" height="23.1" fill="url(#g21)" stroke="#111" stroke-width="1.7"/>
<text x="1209.9" y="1669.2" font-size="30.8" textLength="398.1" lengthAdjust="spacingAndGlyphs">Exogenous drug catabolism</text>
<text x="1276.2" y="1711.6" font-size="30.8" textLength="331.8" lengthAdjust="spacingAndGlyphs">Xenobiotic metabolism</text>
<text x="1210" y="1753.3" font-size="30.8" textLength="396" lengthAdjust="spacingAndGlyphs" stroke="#111" stroke-width="0.14">Epoxygenase P450 pathway</text>
<text x="1196.7" y="1795.1" font-size="30.8" textLength="410.4" lengthAdjust="spacingAndGlyphs">oxidation–reduction process</text>
<text x="1281.9" y="1837.5" font-size="30.8" textLength="326.3" lengthAdjust="spacingAndGlyphs">Response to stilbenoid</text>
<text x="1119.9" y="1879.9" font-size="30.8" textLength="488.2" lengthAdjust="spacingAndGlyphs">Long–chain fatty acid metabolism</text>
<text x="973.4" y="1921.7" font-size="30.8" textLength="632.6" lengthAdjust="spacingAndGlyphs">Complement activation, alternative pathway</text>
<text x="1828.7" y="1665.3" font-size="25.5" textLength="29.8" lengthAdjust="spacingAndGlyphs">19</text>
<text x="1824.3" y="1707.5" font-size="25.5" textLength="32.2" lengthAdjust="spacingAndGlyphs">26</text>
<text x="1813.6" y="1749.6" font-size="25.5" textLength="29.8" lengthAdjust="spacingAndGlyphs">16</text>
<text x="1776.2" y="1795.7" font-size="25.5" textLength="30" lengthAdjust="spacingAndGlyphs">75</text>
<text x="1717.1" y="1837.9" font-size="25.5" textLength="15.9" lengthAdjust="spacingAndGlyphs">8</text>
<text x="1710.5" y="1880" font-size="25.5" textLength="30.3" lengthAdjust="spacingAndGlyphs">27</text>
<text x="1705.2" y="1922.1" font-size="25.5" textLength="14.9" lengthAdjust="spacingAndGlyphs">5</text>
<line x1="1631.1" y1="1619.2" x2="1631.1" y2="1946.2" stroke="#111" stroke-width="2" />
<line x1="1631.1" y1="1632.2" x2="1807.6" y2="1632.2" stroke="#111" stroke-width="2" />
<line x1="1807.6" y1="1619.2" x2="1807.6" y2="1633.2" stroke="#111" stroke-width="2" />
<text x="1928" y="1832.2" font-size="46.5" textLength="92.4" lengthAdjust="spacingAndGlyphs" transform="rotate(-90 1928 1832.2)" stroke="#111" stroke-width="0.63">Liver</text>
<text x="959.4" y="1998.6" font-size="47" font-weight="bold" textLength="27.9" lengthAdjust="spacingAndGlyphs">h</text>
<text x="1637.8" y="1998.1" font-size="23.5" textLength="146.9" lengthAdjust="spacingAndGlyphs">-ln(p-value)</text>
<text x="1614.9" y="2030.2" font-size="25.5" textLength="15.9" lengthAdjust="spacingAndGlyphs">0</text>
<text x="1787.5" y="2030.2" font-size="25.5" textLength="31.1" lengthAdjust="spacingAndGlyphs">52</text>
<defs><linearGradient id="g22" x1="0" y1="0" x2="1" y2="0"><stop offset="0.0000" stop-color="#2830A0"/><stop offset="0.0375" stop-color="#2830A0"/><stop offset="0.0375" stop-color="#7078C8"/><stop offset="0.1056" stop-color="#A0A6DE"/><stop offset="0.1056" stop-color="#B8BCEA"/><stop offset="0.2198" stop-color="#D4D7F2"/><stop offset="0.2198" stop-color="#E0E2F5"/><stop offset="0.7553" stop-color="#EDEEF8"/><stop offset="0.7553" stop-color="#FCE6E6"/><stop offset="0.9091" stop-color="#F6B0B0"/><stop offset="0.9546" stop-color="#F49090"/><stop offset="0.9546" stop-color="#E03428"/><stop offset="1.0000" stop-color="#E03428"/></linearGradient></defs>
<rect x="1627.5" y="2070.1" width="176.1" height="23.9" fill="url(#g22)" stroke="#111" stroke-width="1.7"/>
<defs><linearGradient id="g23" x1="0" y1="0" x2="1" y2="0"><stop offset="0.0000" stop-color="#D0D3F0"/><stop offset="0.2227" stop-color="#D4D7F1"/><stop offset="0.2227" stop-color="#E2E4F5"/><stop offset="0.7870" stop-color="#EEEEF8"/><stop offset="0.7870" stop-color="#FCDCDC"/><stop offset="0.8919" stop-color="#F6B0B0"/><stop offset="0.8919" stop-color="#E03428"/><stop offset="1.0000" stop-color="#E03428"/></linearGradient></defs>
<rect x="1627.5" y="2112.2" width="92.5" height="23.5" fill="url(#g23)" stroke="#111" stroke-width="1.7"/>
<defs><linearGradient id="g24" x1="0" y1="0" x2="1" y2="0"><stop offset="0.0000" stop-color="#2830A0"/><stop offset="0.0327" stop-color="#2830A0"/><stop offset="0.0327" stop-color="#C8CCEE"/><stop offset="0.1875" stop-color="#C8CCEE"/><stop offset="0.1875" stop-color="#E8E9F6"/><stop offset="0.5759" stop-color="#F0F0F8"/><stop offset="0.5759" stop-color="#FCE0E0"/><stop offset="0.8140" stop-color="#F6A8A8"/><stop offset="0.8140" stop-color="#EE6060"/><stop offset="1.0000" stop-color="#EC5050"/></linearGradient></defs>
<rect x="1627.5" y="2154.4" width="67.2" height="23.4" fill="url(#g24)" stroke="#111" stroke-width="1.7"/>
<defs><linearGradient id="g25" x1="0" y1="0" x2="1" y2="0"><stop offset="0.0000" stop-color="#D0D3F0"/><stop offset="0.1003" stop-color="#D0D3F0"/><stop offset="0.1003" stop-color="#E2E4F5"/><stop offset="0.8009" stop-color="#E6E7F6"/><stop offset="0.8009" stop-color="#FCE8E8"/><stop offset="1.0000" stop-color="#FCE8E8"/></linearGradient></defs>
<rect x="1627.5" y="2196.5" width="65.8" height="23.5" fill="url(#g25)" stroke="#111" stroke-width="1.7"/>
<defs><linearGradient id="g26" x1="0" y1="0" x2="1" y2="0"><stop offset="0.0000" stop-color="#3038A8"/><stop offset="0.0804" stop-color="#3038A8"/><stop offset="0.0804" stop-color="#7880CC"/><stop offset="0.3252" stop-color="#B8BCEA"/><stop offset="0.3252" stop-color="#E0E2F5"/><stop offset="0.7465" stop-color="#E6E7F6"/><stop offset="0.7465" stop-color="#FCE0E0"/><stop offset="0.9213" stop-color="#F4A0A0"/><stop offset="0.9213" stop-color="#E03428"/><stop offset="1.0000" stop-color="#E03428"/></linearGradient></defs>
<rect x="1627.5" y="2238.6" width="57.2" height="23.5" fill="url(#g26)" stroke="#111" stroke-width="1.7"/>
<defs><linearGradient id="g27" x1="0" y1="0" x2="1" y2="0"><stop offset="0.0000" stop-color="#DADCF3"/><stop offset="0.7573" stop-color="#E6E7F6"/><stop offset="0.7573" stop-color="#FCE0E0"/><stop offset="0.9335" stop-color="#F4A0A0"/><stop offset="0.9335" stop-color="#E03428"/><stop offset="1.0000" stop-color="#E03428"/></linearGradient></defs>
<rect x="1627.5" y="2280.7" width="51.1" height="23.5" fill="url(#g27)" stroke="#111" stroke-width="1.7"/>
<defs><linearGradient id="g28" x1="0" y1="0" x2="1" y2="0"><stop offset="0.0000" stop-color="#A0A6DE"/><stop offset="0.2675" stop-color="#A0A6DE"/><stop offset="0.2675" stop-color="#D0D3F0"/><stop offset="0.4820" stop-color="#D0D3F0"/><stop offset="0.4820" stop-color="#FCE0E0"/><stop offset="0.8217" stop-color="#F8C0C0"/><stop offset="0.8217" stop-color="#F07070"/><stop offset="1.0000" stop-color="#F07070"/></linearGradient></defs>
<rect x="1627.5" y="2322.9" width="47.1" height="23.4" fill="url(#g28)" stroke="#111" stroke-width="1.7"/>
<text x="1186.5" y="2091.2" font-size="30.8" textLength="415.6" lengthAdjust="spacingAndGlyphs">Oxidation–reduction process</text>
<text x="1181.2" y="2132.9" font-size="30.8" textLength="421.8" lengthAdjust="spacingAndGlyphs">alpha–amino acid catabolism</text>
<text x="969.4" y="2174.7" font-size="30.8" textLength="633.8" lengthAdjust="spacingAndGlyphs">Benzene–containing compound metabolsm</text>
<text x="1237.4" y="2217.1" font-size="30.8" textLength="365.9" lengthAdjust="spacingAndGlyphs">Fatty acid beta–oxidation</text>
<text x="1366.1" y="2258.8" font-size="30.8" textLength="237" lengthAdjust="spacingAndGlyphs">Drug catabolism</text>
<text x="1304.6" y="2300.6" font-size="30.8" textLength="298.5" lengthAdjust="spacingAndGlyphs">Cofactor metabolism</text>
<text x="1277.4" y="2343" font-size="30.8" textLength="325.8" lengthAdjust="spacingAndGlyphs">Response to stilbenoid</text>
<text x="1816.6" y="2090.4" font-size="25.5" textLength="46.5" lengthAdjust="spacingAndGlyphs">179</text>
<text x="1757.1" y="2132.5" font-size="25.5" textLength="31.7" lengthAdjust="spacingAndGlyphs">28</text>
<text x="1734.4" y="2174.6" font-size="25.5" textLength="29.6" lengthAdjust="spacingAndGlyphs">13</text>
<text x="1730" y="2216.7" font-size="25.5" textLength="31.7" lengthAdjust="spacingAndGlyphs">23</text>
<text x="1713.2" y="2258.9" font-size="25.5" textLength="31.1" lengthAdjust="spacingAndGlyphs">32</text>
<text x="1702.2" y="2301" font-size="25.5" textLength="46.1" lengthAdjust="spacingAndGlyphs">109</text>
<text x="1708" y="2343.1" font-size="25.5" textLength="16.1" lengthAdjust="spacingAndGlyphs">9</text>
<line x1="1627.5" y1="2040.2" x2="1627.5" y2="2368.2" stroke="#111" stroke-width="2" />
<line x1="1627.5" y1="2054.3" x2="1803.6" y2="2054.3" stroke="#111" stroke-width="2" />
<line x1="1803.6" y1="2040.2" x2="1803.6" y2="2055.3" stroke="#111" stroke-width="2" />
<text x="1928" y="2232.2" font-size="46.5" textLength="130.7" lengthAdjust="spacingAndGlyphs" transform="rotate(-90 1928 2232.2)" stroke="#111" stroke-width="0.62">Kidney</text>
<defs><linearGradient id="fcg" x1="0" y1="0" x2="1" y2="0"><stop offset="0" stop-color="#3A44A8"/><stop offset="0.25" stop-color="#9C9EDA"/><stop offset="0.5" stop-color="#FFFFFF"/><stop offset="0.62" stop-color="#F9C8B0"/><stop offset="0.85" stop-color="#F06040"/><stop offset="1" stop-color="#D93020"/></linearGradient></defs>
<rect x="1512.5" y="2405.5" width="250.6" height="22.9" fill="url(#fcg)" />
<line x1="1512.5" y1="2435.5" x2="1763.1" y2="2435.5" stroke="#111" stroke-width="2.2" />
<line x1="1513.5" y1="2434.5" x2="1513.5" y2="2442" stroke="#111" stroke-width="3" />
<line x1="1575.7" y1="2434.5" x2="1575.7" y2="2442" stroke="#111" stroke-width="3" />
<line x1="1637.6" y1="2434.5" x2="1637.6" y2="2442" stroke="#111" stroke-width="3" />
<line x1="1699.8" y1="2434.5" x2="1699.8" y2="2442" stroke="#111" stroke-width="3" />
<line x1="1761.5" y1="2434.5" x2="1761.5" y2="2442" stroke="#111" stroke-width="3" />
<text x="1490.8" y="2473" font-size="24.7" textLength="34.4" lengthAdjust="spacingAndGlyphs">−4</text>
<text x="1628.8" y="2468.9" font-size="27" textLength="15.3" lengthAdjust="spacingAndGlyphs">0</text>
<text x="1749.9" y="2480" font-size="26" textLength="14.4" lengthAdjust="spacingAndGlyphs" stroke="#111" stroke-width="0.16">4</text>
<text x="1479.9" y="2513.4" font-size="27.8" textLength="314.7" lengthAdjust="spacingAndGlyphs" stroke="#111" stroke-width="0.21">log2FC (Females / Males)</text>
</svg></body></html>
